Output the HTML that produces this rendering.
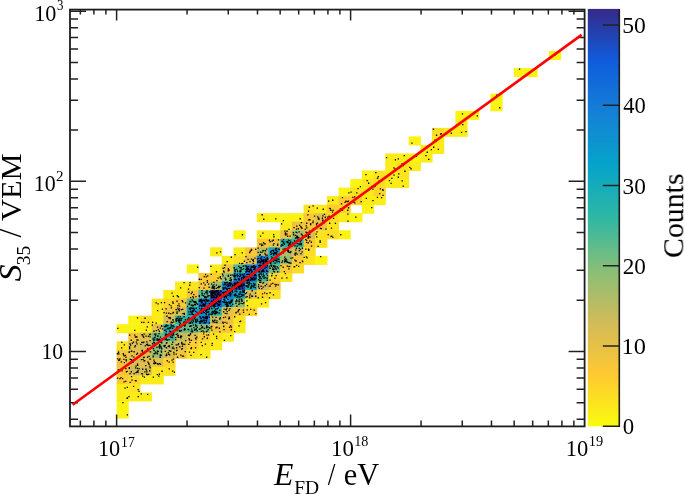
<!DOCTYPE html>
<html><head><meta charset="utf-8"><style>
html,body{margin:0;padding:0;background:#fff;width:685px;height:494px;overflow:hidden}
svg{display:block}
text{font-family:"Liberation Serif",serif}
</style></head><body>
<svg width="685" height="494" viewBox="0 0 685 494">
<rect width="685" height="494" fill="#fff"/>
<rect x="116.60" y="324.16" width="12.18" height="9.04" fill="#faf313"/><rect x="116.60" y="341.23" width="12.18" height="9.04" fill="#fbe41f"/><rect x="116.60" y="349.76" width="12.18" height="9.04" fill="#f3c53b"/><rect x="116.60" y="358.30" width="12.18" height="9.04" fill="#edc341"/><rect x="116.60" y="366.83" width="12.18" height="9.04" fill="#fac735"/><rect x="116.60" y="375.37" width="12.18" height="9.04" fill="#fecc2f"/><rect x="116.60" y="383.90" width="12.18" height="9.04" fill="#faeb19"/><rect x="116.60" y="392.44" width="12.18" height="9.04" fill="#faeb19"/><rect x="116.60" y="400.97" width="12.18" height="9.04" fill="#faf313"/><rect x="116.60" y="409.51" width="12.18" height="9.04" fill="#faf313"/><rect x="128.28" y="315.62" width="12.18" height="9.04" fill="#faf313"/><rect x="128.28" y="324.16" width="12.18" height="9.04" fill="#faf313"/><rect x="128.28" y="332.69" width="12.18" height="9.04" fill="#f3c53b"/><rect x="128.28" y="341.23" width="12.18" height="9.04" fill="#dfbf4d"/><rect x="128.28" y="349.76" width="12.18" height="9.04" fill="#e6c147"/><rect x="128.28" y="358.30" width="12.18" height="9.04" fill="#d8bd53"/><rect x="128.28" y="366.83" width="12.18" height="9.04" fill="#d1bb59"/><rect x="128.28" y="375.37" width="12.18" height="9.04" fill="#fdd42a"/><rect x="128.28" y="383.90" width="12.18" height="9.04" fill="#fbe41f"/><rect x="128.28" y="392.44" width="12.18" height="9.04" fill="#faeb19"/><rect x="139.97" y="315.62" width="12.18" height="9.04" fill="#fcdc24"/><rect x="139.97" y="324.16" width="12.18" height="9.04" fill="#faeb19"/><rect x="139.97" y="332.69" width="12.18" height="9.04" fill="#dfbf4d"/><rect x="139.97" y="341.23" width="12.18" height="9.04" fill="#d1bb59"/><rect x="139.97" y="349.76" width="12.18" height="9.04" fill="#d8bd53"/><rect x="139.97" y="358.30" width="12.18" height="9.04" fill="#dfbf4d"/><rect x="139.97" y="366.83" width="12.18" height="9.04" fill="#d8bd53"/><rect x="139.97" y="375.37" width="12.18" height="9.04" fill="#faeb19"/><rect x="139.97" y="392.44" width="12.18" height="9.04" fill="#faeb19"/><rect x="151.65" y="298.56" width="12.18" height="9.04" fill="#fbe41f"/><rect x="151.65" y="307.09" width="12.18" height="9.04" fill="#faeb19"/><rect x="151.65" y="315.62" width="12.18" height="9.04" fill="#faeb19"/><rect x="151.65" y="324.16" width="12.18" height="9.04" fill="#e6c147"/><rect x="151.65" y="332.69" width="12.18" height="9.04" fill="#65bc88"/><rect x="151.65" y="341.23" width="12.18" height="9.04" fill="#80be7a"/><rect x="151.65" y="349.76" width="12.18" height="9.04" fill="#98be70"/><rect x="151.65" y="358.30" width="12.18" height="9.04" fill="#e6c147"/><rect x="151.65" y="366.83" width="12.18" height="9.04" fill="#fbe41f"/><rect x="151.65" y="375.37" width="12.18" height="9.04" fill="#faeb19"/><rect x="163.33" y="290.02" width="12.18" height="9.04" fill="#faeb19"/><rect x="163.33" y="298.56" width="12.18" height="9.04" fill="#fdd42a"/><rect x="163.33" y="307.09" width="12.18" height="9.04" fill="#f3c53b"/><rect x="163.33" y="315.62" width="12.18" height="9.04" fill="#d8bd53"/><rect x="163.33" y="324.16" width="12.18" height="9.04" fill="#22b1b0"/><rect x="163.33" y="332.69" width="12.18" height="9.04" fill="#3cb89d"/><rect x="163.33" y="341.23" width="12.18" height="9.04" fill="#babc62"/><rect x="163.33" y="349.76" width="12.18" height="9.04" fill="#d8bd53"/><rect x="163.33" y="358.30" width="12.18" height="9.04" fill="#fdd42a"/><rect x="163.33" y="366.83" width="12.18" height="9.04" fill="#fbe41f"/><rect x="175.01" y="281.48" width="12.18" height="9.04" fill="#faeb19"/><rect x="175.01" y="290.02" width="12.18" height="9.04" fill="#faeb19"/><rect x="175.01" y="298.56" width="12.18" height="9.04" fill="#fac735"/><rect x="175.01" y="307.09" width="12.18" height="9.04" fill="#d8bd53"/><rect x="175.01" y="315.62" width="12.18" height="9.04" fill="#2eb7a4"/><rect x="175.01" y="324.16" width="12.18" height="9.04" fill="#65bc88"/><rect x="175.01" y="332.69" width="12.18" height="9.04" fill="#c5bc5e"/><rect x="175.01" y="341.23" width="12.18" height="9.04" fill="#d8bd53"/><rect x="175.01" y="349.76" width="12.18" height="9.04" fill="#f3c53b"/><rect x="186.70" y="264.42" width="12.18" height="9.04" fill="#faf313"/><rect x="186.70" y="281.48" width="12.18" height="9.04" fill="#fbe41f"/><rect x="186.70" y="290.02" width="12.18" height="9.04" fill="#f3c53b"/><rect x="186.70" y="298.56" width="12.18" height="9.04" fill="#57bb8f"/><rect x="186.70" y="307.09" width="12.18" height="9.04" fill="#09a5c7"/><rect x="186.70" y="315.62" width="12.18" height="9.04" fill="#28b4aa"/><rect x="186.70" y="324.16" width="12.18" height="9.04" fill="#65bc88"/><rect x="186.70" y="332.69" width="12.18" height="9.04" fill="#dfbf4d"/><rect x="186.70" y="341.23" width="12.18" height="9.04" fill="#fecc2f"/><rect x="186.70" y="349.76" width="12.18" height="9.04" fill="#fbe41f"/><rect x="198.38" y="272.95" width="12.18" height="9.04" fill="#fac735"/><rect x="198.38" y="281.48" width="12.18" height="9.04" fill="#f3c53b"/><rect x="198.38" y="290.02" width="12.18" height="9.04" fill="#57bb8f"/><rect x="198.38" y="298.56" width="12.18" height="9.04" fill="#1270d9"/><rect x="198.38" y="307.09" width="12.18" height="9.04" fill="#0b96ce"/><rect x="198.38" y="315.62" width="12.18" height="9.04" fill="#1286d4"/><rect x="198.38" y="324.16" width="12.18" height="9.04" fill="#80be7a"/><rect x="198.38" y="332.69" width="12.18" height="9.04" fill="#fecc2f"/><rect x="198.38" y="341.23" width="12.18" height="9.04" fill="#fbe41f"/><rect x="198.38" y="349.76" width="12.18" height="9.04" fill="#faeb19"/><rect x="210.06" y="247.34" width="12.18" height="9.04" fill="#faeb19"/><rect x="210.06" y="264.42" width="12.18" height="9.04" fill="#faeb19"/><rect x="210.06" y="272.95" width="12.18" height="9.04" fill="#fecc2f"/><rect x="210.06" y="281.48" width="12.18" height="9.04" fill="#a3bd6b"/><rect x="210.06" y="290.02" width="12.18" height="9.04" fill="#352a87"/><rect x="210.06" y="298.56" width="12.18" height="9.04" fill="#1850c9"/><rect x="210.06" y="307.09" width="12.18" height="9.04" fill="#22b1b0"/><rect x="210.06" y="315.62" width="12.18" height="9.04" fill="#c5bc5e"/><rect x="210.06" y="324.16" width="12.18" height="9.04" fill="#f3c53b"/><rect x="210.06" y="332.69" width="12.18" height="9.04" fill="#fbe41f"/><rect x="210.06" y="341.23" width="12.18" height="9.04" fill="#faeb19"/><rect x="221.75" y="255.88" width="12.18" height="9.04" fill="#faeb19"/><rect x="221.75" y="264.42" width="12.18" height="9.04" fill="#f3c53b"/><rect x="221.75" y="272.95" width="12.18" height="9.04" fill="#98be70"/><rect x="221.75" y="281.48" width="12.18" height="9.04" fill="#1286d4"/><rect x="221.75" y="290.02" width="12.18" height="9.04" fill="#137bd7"/><rect x="221.75" y="298.56" width="12.18" height="9.04" fill="#099ccd"/><rect x="221.75" y="307.09" width="12.18" height="9.04" fill="#e6c147"/><rect x="221.75" y="315.62" width="12.18" height="9.04" fill="#edc341"/><rect x="221.75" y="324.16" width="12.18" height="9.04" fill="#fac735"/><rect x="221.75" y="332.69" width="12.18" height="9.04" fill="#faeb19"/><rect x="233.43" y="230.28" width="12.18" height="9.04" fill="#faf313"/><rect x="233.43" y="247.34" width="12.18" height="9.04" fill="#faeb19"/><rect x="233.43" y="255.88" width="12.18" height="9.04" fill="#fcdc24"/><rect x="233.43" y="264.42" width="12.18" height="9.04" fill="#49ba96"/><rect x="233.43" y="272.95" width="12.18" height="9.04" fill="#1286d4"/><rect x="233.43" y="281.48" width="12.18" height="9.04" fill="#293aa2"/><rect x="233.43" y="290.02" width="12.18" height="9.04" fill="#09a5c7"/><rect x="233.43" y="298.56" width="12.18" height="9.04" fill="#80be7a"/><rect x="233.43" y="307.09" width="12.18" height="9.04" fill="#f3c53b"/><rect x="233.43" y="315.62" width="12.18" height="9.04" fill="#fbe41f"/><rect x="233.43" y="324.16" width="12.18" height="9.04" fill="#faeb19"/><rect x="245.11" y="247.34" width="12.18" height="9.04" fill="#fac735"/><rect x="245.11" y="255.88" width="12.18" height="9.04" fill="#e6c147"/><rect x="245.11" y="264.42" width="12.18" height="9.04" fill="#137bd7"/><rect x="245.11" y="272.95" width="12.18" height="9.04" fill="#1064dc"/><rect x="245.11" y="281.48" width="12.18" height="9.04" fill="#15abbb"/><rect x="245.11" y="290.02" width="12.18" height="9.04" fill="#d8bd53"/><rect x="245.11" y="298.56" width="12.18" height="9.04" fill="#faeb19"/><rect x="245.11" y="307.09" width="12.18" height="9.04" fill="#fdd42a"/><rect x="256.80" y="213.21" width="12.18" height="9.04" fill="#faeb19"/><rect x="256.80" y="230.28" width="12.18" height="9.04" fill="#faeb19"/><rect x="256.80" y="238.81" width="12.18" height="9.04" fill="#fac735"/><rect x="256.80" y="247.34" width="12.18" height="9.04" fill="#babc62"/><rect x="256.80" y="255.88" width="12.18" height="9.04" fill="#137bd7"/><rect x="256.80" y="264.42" width="12.18" height="9.04" fill="#1270d9"/><rect x="256.80" y="272.95" width="12.18" height="9.04" fill="#3cb89d"/><rect x="256.80" y="281.48" width="12.18" height="9.04" fill="#d1bb59"/><rect x="256.80" y="290.02" width="12.18" height="9.04" fill="#fdd42a"/><rect x="256.80" y="298.56" width="12.18" height="9.04" fill="#faeb19"/><rect x="268.48" y="213.21" width="12.18" height="9.04" fill="#faf313"/><rect x="268.48" y="230.28" width="12.18" height="9.04" fill="#faeb19"/><rect x="268.48" y="238.81" width="12.18" height="9.04" fill="#edc341"/><rect x="268.48" y="247.34" width="12.18" height="9.04" fill="#09a5c7"/><rect x="268.48" y="255.88" width="12.18" height="9.04" fill="#22b1b0"/><rect x="268.48" y="264.42" width="12.18" height="9.04" fill="#73bd81"/><rect x="268.48" y="272.95" width="12.18" height="9.04" fill="#fdd42a"/><rect x="268.48" y="281.48" width="12.18" height="9.04" fill="#f3c53b"/><rect x="268.48" y="290.02" width="12.18" height="9.04" fill="#fbe41f"/><rect x="280.16" y="213.21" width="12.18" height="9.04" fill="#faf313"/><rect x="280.16" y="221.74" width="12.18" height="9.04" fill="#faeb19"/><rect x="280.16" y="230.28" width="12.18" height="9.04" fill="#edc341"/><rect x="280.16" y="238.81" width="12.18" height="9.04" fill="#28b4aa"/><rect x="280.16" y="247.34" width="12.18" height="9.04" fill="#afbd67"/><rect x="280.16" y="255.88" width="12.18" height="9.04" fill="#98be70"/><rect x="280.16" y="264.42" width="12.18" height="9.04" fill="#fac735"/><rect x="280.16" y="272.95" width="12.18" height="9.04" fill="#fbe41f"/><rect x="291.85" y="213.21" width="12.18" height="9.04" fill="#faf313"/><rect x="291.85" y="221.74" width="12.18" height="9.04" fill="#edc341"/><rect x="291.85" y="230.28" width="12.18" height="9.04" fill="#a3bd6b"/><rect x="291.85" y="238.81" width="12.18" height="9.04" fill="#2eb7a4"/><rect x="291.85" y="247.34" width="12.18" height="9.04" fill="#d1bb59"/><rect x="291.85" y="255.88" width="12.18" height="9.04" fill="#fac735"/><rect x="291.85" y="264.42" width="12.18" height="9.04" fill="#fcdc24"/><rect x="303.53" y="204.67" width="12.18" height="9.04" fill="#fbe41f"/><rect x="303.53" y="213.21" width="12.18" height="9.04" fill="#fac735"/><rect x="303.53" y="221.74" width="12.18" height="9.04" fill="#f3c53b"/><rect x="303.53" y="230.28" width="12.18" height="9.04" fill="#d8bd53"/><rect x="303.53" y="238.81" width="12.18" height="9.04" fill="#fac735"/><rect x="303.53" y="247.34" width="12.18" height="9.04" fill="#fcdc24"/><rect x="303.53" y="255.88" width="12.18" height="9.04" fill="#fbe41f"/><rect x="315.21" y="204.67" width="12.18" height="9.04" fill="#faeb19"/><rect x="315.21" y="213.21" width="12.18" height="9.04" fill="#dfbf4d"/><rect x="315.21" y="221.74" width="12.18" height="9.04" fill="#edc341"/><rect x="315.21" y="230.28" width="12.18" height="9.04" fill="#fbe41f"/><rect x="315.21" y="238.81" width="12.18" height="9.04" fill="#fbe41f"/><rect x="315.21" y="255.88" width="12.18" height="9.04" fill="#faf313"/><rect x="326.89" y="196.14" width="12.18" height="9.04" fill="#faeb19"/><rect x="326.89" y="204.67" width="12.18" height="9.04" fill="#fecc2f"/><rect x="326.89" y="213.21" width="12.18" height="9.04" fill="#fcdc24"/><rect x="326.89" y="221.74" width="12.18" height="9.04" fill="#fbe41f"/><rect x="326.89" y="230.28" width="12.18" height="9.04" fill="#fcdc24"/><rect x="338.58" y="187.60" width="12.18" height="9.04" fill="#faf313"/><rect x="338.58" y="196.14" width="12.18" height="9.04" fill="#fecc2f"/><rect x="338.58" y="204.67" width="12.18" height="9.04" fill="#fdd42a"/><rect x="338.58" y="213.21" width="12.18" height="9.04" fill="#faeb19"/><rect x="338.58" y="230.28" width="12.18" height="9.04" fill="#faf313"/><rect x="350.26" y="179.06" width="12.18" height="9.04" fill="#faf313"/><rect x="350.26" y="187.60" width="12.18" height="9.04" fill="#fbe41f"/><rect x="350.26" y="196.14" width="12.18" height="9.04" fill="#fecc2f"/><rect x="350.26" y="213.21" width="12.18" height="9.04" fill="#faf313"/><rect x="361.94" y="170.53" width="12.18" height="9.04" fill="#faf313"/><rect x="361.94" y="179.06" width="12.18" height="9.04" fill="#fbe41f"/><rect x="361.94" y="187.60" width="12.18" height="9.04" fill="#faeb19"/><rect x="361.94" y="196.14" width="12.18" height="9.04" fill="#faeb19"/><rect x="361.94" y="204.67" width="12.18" height="9.04" fill="#faf313"/><rect x="373.63" y="170.53" width="12.18" height="9.04" fill="#fbe41f"/><rect x="373.63" y="179.06" width="12.18" height="9.04" fill="#fcdc24"/><rect x="373.63" y="187.60" width="12.18" height="9.04" fill="#fdd42a"/><rect x="373.63" y="196.14" width="12.18" height="9.04" fill="#faeb19"/><rect x="385.31" y="153.46" width="12.18" height="9.04" fill="#faeb19"/><rect x="385.31" y="162.00" width="12.18" height="9.04" fill="#faeb19"/><rect x="385.31" y="170.53" width="12.18" height="9.04" fill="#faeb19"/><rect x="385.31" y="179.06" width="12.18" height="9.04" fill="#faeb19"/><rect x="396.99" y="153.46" width="12.18" height="9.04" fill="#faeb19"/><rect x="396.99" y="162.00" width="12.18" height="9.04" fill="#fbe41f"/><rect x="396.99" y="170.53" width="12.18" height="9.04" fill="#fbe41f"/><rect x="396.99" y="179.06" width="12.18" height="9.04" fill="#faeb19"/><rect x="408.67" y="136.39" width="12.18" height="9.04" fill="#faf313"/><rect x="408.67" y="153.46" width="12.18" height="9.04" fill="#faf313"/><rect x="408.67" y="162.00" width="12.18" height="9.04" fill="#faeb19"/><rect x="420.36" y="144.93" width="12.18" height="9.04" fill="#faeb19"/><rect x="420.36" y="153.46" width="12.18" height="9.04" fill="#faeb19"/><rect x="432.04" y="127.85" width="12.18" height="9.04" fill="#fcdc24"/><rect x="432.04" y="136.39" width="12.18" height="9.04" fill="#faeb19"/><rect x="432.04" y="144.93" width="12.18" height="9.04" fill="#faeb19"/><rect x="443.72" y="127.85" width="12.18" height="9.04" fill="#faeb19"/><rect x="455.41" y="110.78" width="12.18" height="9.04" fill="#faf313"/><rect x="455.41" y="119.32" width="12.18" height="9.04" fill="#faeb19"/><rect x="455.41" y="127.85" width="12.18" height="9.04" fill="#faeb19"/><rect x="467.09" y="110.78" width="12.18" height="9.04" fill="#faf313"/><rect x="490.46" y="93.72" width="12.18" height="9.04" fill="#faf313"/><rect x="490.46" y="102.25" width="12.18" height="9.04" fill="#faf313"/><rect x="513.82" y="68.11" width="12.18" height="9.04" fill="#faf313"/><rect x="525.50" y="68.11" width="12.18" height="9.04" fill="#faf313"/><rect x="548.87" y="51.04" width="12.18" height="9.04" fill="#faf313"/><path fill="#000" d="M117.2 327.8h1.3v1.3h-1.3zM121.1 341.7h1.3v1.3h-1.3zM121.0 347.2h1.3v1.3h-1.3zM123.7 344.3h1.3v1.3h-1.3zM122.7 353.0h1.3v1.3h-1.3zM124.8 354.8h1.3v1.3h-1.3zM118.2 353.3h1.3v1.3h-1.3zM123.5 355.3h1.3v1.3h-1.3zM122.8 354.0h1.3v1.3h-1.3zM125.3 356.6h1.3v1.3h-1.3zM116.8 353.1h1.3v1.3h-1.3zM117.9 351.6h1.3v1.3h-1.3zM125.6 358.9h1.3v1.3h-1.3zM125.6 360.3h1.3v1.3h-1.3zM118.2 359.6h1.3v1.3h-1.3zM119.3 358.3h1.3v1.3h-1.3zM123.8 362.0h1.3v1.3h-1.3zM120.7 361.2h1.3v1.3h-1.3zM123.2 358.8h1.3v1.3h-1.3zM118.8 359.5h1.3v1.3h-1.3zM117.1 358.3h1.3v1.3h-1.3zM117.7 369.5h1.3v1.3h-1.3zM125.7 371.3h1.3v1.3h-1.3zM119.2 369.3h1.3v1.3h-1.3zM121.4 370.3h1.3v1.3h-1.3zM117.7 369.3h1.3v1.3h-1.3zM125.2 368.0h1.3v1.3h-1.3zM126.5 370.7h1.3v1.3h-1.3zM119.3 378.0h1.3v1.3h-1.3zM125.1 380.7h1.3v1.3h-1.3zM122.0 377.9h1.3v1.3h-1.3zM116.9 377.4h1.3v1.3h-1.3zM120.4 377.0h1.3v1.3h-1.3zM123.4 381.2h1.3v1.3h-1.3zM124.4 387.4h1.3v1.3h-1.3zM126.7 386.8h1.3v1.3h-1.3zM126.4 397.7h1.3v1.3h-1.3zM126.8 397.2h1.3v1.3h-1.3zM122.3 401.9h1.3v1.3h-1.3zM126.7 414.2h1.3v1.3h-1.3zM136.9 317.2h1.3v1.3h-1.3zM134.1 329.8h1.3v1.3h-1.3zM134.1 334.5h1.3v1.3h-1.3zM136.3 336.4h1.3v1.3h-1.3zM136.2 339.3h1.3v1.3h-1.3zM134.6 336.4h1.3v1.3h-1.3zM135.5 336.0h1.3v1.3h-1.3zM137.4 339.5h1.3v1.3h-1.3zM129.0 334.4h1.3v1.3h-1.3zM130.6 339.6h1.3v1.3h-1.3zM130.0 344.4h1.3v1.3h-1.3zM131.8 342.6h1.3v1.3h-1.3zM135.8 341.4h1.3v1.3h-1.3zM132.9 341.4h1.3v1.3h-1.3zM134.8 344.9h1.3v1.3h-1.3zM129.4 343.2h1.3v1.3h-1.3zM136.4 343.2h1.3v1.3h-1.3zM134.2 346.3h1.3v1.3h-1.3zM128.9 346.2h1.3v1.3h-1.3zM129.0 348.0h1.3v1.3h-1.3zM129.0 347.5h1.3v1.3h-1.3zM131.1 350.7h1.3v1.3h-1.3zM130.8 350.6h1.3v1.3h-1.3zM128.8 351.2h1.3v1.3h-1.3zM131.4 355.3h1.3v1.3h-1.3zM133.5 351.1h1.3v1.3h-1.3zM128.5 351.6h1.3v1.3h-1.3zM135.9 353.8h1.3v1.3h-1.3zM133.2 356.5h1.3v1.3h-1.3zM136.8 352.9h1.3v1.3h-1.3zM136.9 352.6h1.3v1.3h-1.3zM135.4 365.4h1.3v1.3h-1.3zM136.9 363.4h1.3v1.3h-1.3zM132.5 360.8h1.3v1.3h-1.3zM129.6 358.8h1.3v1.3h-1.3zM130.9 359.5h1.3v1.3h-1.3zM137.0 364.6h1.3v1.3h-1.3zM131.2 360.1h1.3v1.3h-1.3zM133.1 359.4h1.3v1.3h-1.3zM131.5 360.9h1.3v1.3h-1.3zM132.2 361.7h1.3v1.3h-1.3zM130.4 362.0h1.3v1.3h-1.3zM131.0 358.9h1.3v1.3h-1.3zM128.7 367.0h1.3v1.3h-1.3zM130.7 371.1h1.3v1.3h-1.3zM136.1 371.6h1.3v1.3h-1.3zM137.4 369.7h1.3v1.3h-1.3zM138.5 367.9h1.3v1.3h-1.3zM135.0 367.2h1.3v1.3h-1.3zM137.5 371.4h1.3v1.3h-1.3zM136.7 367.8h1.3v1.3h-1.3zM133.5 372.9h1.3v1.3h-1.3zM136.9 371.1h1.3v1.3h-1.3zM135.4 371.9h1.3v1.3h-1.3zM128.6 367.8h1.3v1.3h-1.3zM129.4 372.9h1.3v1.3h-1.3zM130.9 375.9h1.3v1.3h-1.3zM134.7 380.0h1.3v1.3h-1.3zM131.4 379.5h1.3v1.3h-1.3zM135.5 380.3h1.3v1.3h-1.3zM129.5 381.8h1.3v1.3h-1.3zM138.4 390.7h1.3v1.3h-1.3zM132.9 385.8h1.3v1.3h-1.3zM137.5 389.0h1.3v1.3h-1.3zM137.6 396.0h1.3v1.3h-1.3zM128.3 396.0h1.3v1.3h-1.3zM143.2 321.7h1.3v1.3h-1.3zM147.8 321.7h1.3v1.3h-1.3zM144.4 317.6h1.3v1.3h-1.3zM141.0 321.7h1.3v1.3h-1.3zM145.7 329.4h1.3v1.3h-1.3zM146.7 326.2h1.3v1.3h-1.3zM149.6 333.6h1.3v1.3h-1.3zM143.1 336.7h1.3v1.3h-1.3zM141.7 333.9h1.3v1.3h-1.3zM149.4 336.3h1.3v1.3h-1.3zM149.4 339.9h1.3v1.3h-1.3zM141.4 334.1h1.3v1.3h-1.3zM143.5 333.4h1.3v1.3h-1.3zM147.7 335.7h1.3v1.3h-1.3zM145.4 335.4h1.3v1.3h-1.3zM148.9 334.3h1.3v1.3h-1.3zM142.5 335.6h1.3v1.3h-1.3zM149.3 344.7h1.3v1.3h-1.3zM142.5 342.0h1.3v1.3h-1.3zM144.7 345.2h1.3v1.3h-1.3zM146.7 343.4h1.3v1.3h-1.3zM141.1 341.7h1.3v1.3h-1.3zM146.0 344.0h1.3v1.3h-1.3zM146.2 341.3h1.3v1.3h-1.3zM149.1 344.7h1.3v1.3h-1.3zM143.2 341.4h1.3v1.3h-1.3zM147.0 344.3h1.3v1.3h-1.3zM146.9 347.9h1.3v1.3h-1.3zM140.3 343.7h1.3v1.3h-1.3zM147.6 344.9h1.3v1.3h-1.3zM143.0 356.7h1.3v1.3h-1.3zM141.9 351.4h1.3v1.3h-1.3zM146.9 356.6h1.3v1.3h-1.3zM141.4 350.1h1.3v1.3h-1.3zM147.7 350.0h1.3v1.3h-1.3zM143.9 352.5h1.3v1.3h-1.3zM141.7 349.8h1.3v1.3h-1.3zM143.6 356.7h1.3v1.3h-1.3zM150.0 351.3h1.3v1.3h-1.3zM148.5 355.7h1.3v1.3h-1.3zM140.5 353.2h1.3v1.3h-1.3zM149.5 351.2h1.3v1.3h-1.3zM149.3 358.5h1.3v1.3h-1.3zM148.4 363.8h1.3v1.3h-1.3zM143.3 360.3h1.3v1.3h-1.3zM149.8 358.5h1.3v1.3h-1.3zM144.0 360.1h1.3v1.3h-1.3zM145.1 365.0h1.3v1.3h-1.3zM148.0 362.7h1.3v1.3h-1.3zM142.5 358.8h1.3v1.3h-1.3zM149.1 365.4h1.3v1.3h-1.3zM140.8 359.0h1.3v1.3h-1.3zM147.3 361.5h1.3v1.3h-1.3zM144.3 371.3h1.3v1.3h-1.3zM141.2 372.9h1.3v1.3h-1.3zM145.9 369.5h1.3v1.3h-1.3zM142.0 368.6h1.3v1.3h-1.3zM141.6 373.2h1.3v1.3h-1.3zM145.2 368.5h1.3v1.3h-1.3zM146.7 374.0h1.3v1.3h-1.3zM149.5 367.1h1.3v1.3h-1.3zM146.0 373.6h1.3v1.3h-1.3zM149.0 370.1h1.3v1.3h-1.3zM148.0 373.7h1.3v1.3h-1.3zM146.2 371.3h1.3v1.3h-1.3zM143.8 376.4h1.3v1.3h-1.3zM142.1 375.5h1.3v1.3h-1.3zM147.0 393.8h1.3v1.3h-1.3zM140.6 393.2h1.3v1.3h-1.3zM157.4 303.2h1.3v1.3h-1.3zM160.8 301.9h1.3v1.3h-1.3zM155.5 302.2h1.3v1.3h-1.3zM161.7 308.5h1.3v1.3h-1.3zM157.0 309.9h1.3v1.3h-1.3zM152.0 321.7h1.3v1.3h-1.3zM155.6 322.5h1.3v1.3h-1.3zM153.3 330.6h1.3v1.3h-1.3zM161.2 325.7h1.3v1.3h-1.3zM156.9 326.5h1.3v1.3h-1.3zM158.7 330.6h1.3v1.3h-1.3zM155.7 329.9h1.3v1.3h-1.3zM161.9 328.3h1.3v1.3h-1.3zM159.6 327.4h1.3v1.3h-1.3zM157.7 329.0h1.3v1.3h-1.3zM151.7 324.4h1.3v1.3h-1.3zM160.9 325.1h1.3v1.3h-1.3zM158.4 332.9h1.3v1.3h-1.3zM155.3 333.5h1.3v1.3h-1.3zM154.0 336.9h1.3v1.3h-1.3zM153.8 337.2h1.3v1.3h-1.3zM153.0 339.5h1.3v1.3h-1.3zM160.7 338.4h1.3v1.3h-1.3zM157.5 335.2h1.3v1.3h-1.3zM156.3 339.5h1.3v1.3h-1.3zM154.2 339.2h1.3v1.3h-1.3zM157.2 335.6h1.3v1.3h-1.3zM152.3 338.3h1.3v1.3h-1.3zM157.4 339.5h1.3v1.3h-1.3zM153.7 337.1h1.3v1.3h-1.3zM158.3 338.6h1.3v1.3h-1.3zM154.9 334.9h1.3v1.3h-1.3zM160.9 338.4h1.3v1.3h-1.3zM156.5 338.1h1.3v1.3h-1.3zM154.0 333.5h1.3v1.3h-1.3zM158.9 338.8h1.3v1.3h-1.3zM154.4 336.7h1.3v1.3h-1.3zM159.8 336.5h1.3v1.3h-1.3zM158.3 339.7h1.3v1.3h-1.3zM160.8 341.3h1.3v1.3h-1.3zM158.2 346.2h1.3v1.3h-1.3zM158.9 347.4h1.3v1.3h-1.3zM159.2 345.4h1.3v1.3h-1.3zM153.8 345.7h1.3v1.3h-1.3zM161.1 342.3h1.3v1.3h-1.3zM152.8 348.0h1.3v1.3h-1.3zM153.1 341.4h1.3v1.3h-1.3zM158.8 345.8h1.3v1.3h-1.3zM159.3 341.7h1.3v1.3h-1.3zM161.1 348.1h1.3v1.3h-1.3zM153.8 342.0h1.3v1.3h-1.3zM160.5 347.1h1.3v1.3h-1.3zM160.2 345.8h1.3v1.3h-1.3zM153.8 343.5h1.3v1.3h-1.3zM151.9 343.1h1.3v1.3h-1.3zM159.1 343.9h1.3v1.3h-1.3zM158.1 341.5h1.3v1.3h-1.3zM156.2 346.8h1.3v1.3h-1.3zM159.0 345.1h1.3v1.3h-1.3zM160.6 350.4h1.3v1.3h-1.3zM153.4 349.8h1.3v1.3h-1.3zM159.6 356.8h1.3v1.3h-1.3zM156.7 353.3h1.3v1.3h-1.3zM153.6 353.3h1.3v1.3h-1.3zM154.6 351.3h1.3v1.3h-1.3zM156.8 350.6h1.3v1.3h-1.3zM152.5 355.5h1.3v1.3h-1.3zM159.8 354.3h1.3v1.3h-1.3zM152.5 356.2h1.3v1.3h-1.3zM156.9 352.5h1.3v1.3h-1.3zM154.1 353.1h1.3v1.3h-1.3zM159.5 355.2h1.3v1.3h-1.3zM155.3 352.1h1.3v1.3h-1.3zM160.4 354.6h1.3v1.3h-1.3zM153.4 352.9h1.3v1.3h-1.3zM157.7 350.7h1.3v1.3h-1.3zM160.8 351.5h1.3v1.3h-1.3zM153.3 359.4h1.3v1.3h-1.3zM155.0 362.1h1.3v1.3h-1.3zM159.9 363.6h1.3v1.3h-1.3zM153.7 362.9h1.3v1.3h-1.3zM153.8 361.1h1.3v1.3h-1.3zM156.8 362.9h1.3v1.3h-1.3zM153.1 362.7h1.3v1.3h-1.3zM157.6 363.7h1.3v1.3h-1.3zM158.7 362.9h1.3v1.3h-1.3zM154.9 362.8h1.3v1.3h-1.3zM158.7 373.6h1.3v1.3h-1.3zM156.7 373.9h1.3v1.3h-1.3zM161.4 370.6h1.3v1.3h-1.3zM158.2 375.5h1.3v1.3h-1.3zM152.7 376.4h1.3v1.3h-1.3zM171.4 292.5h1.3v1.3h-1.3zM172.7 295.7h1.3v1.3h-1.3zM168.8 303.9h1.3v1.3h-1.3zM172.5 302.6h1.3v1.3h-1.3zM163.9 301.9h1.3v1.3h-1.3zM172.1 301.3h1.3v1.3h-1.3zM170.4 305.3h1.3v1.3h-1.3zM168.1 312.6h1.3v1.3h-1.3zM172.8 311.8h1.3v1.3h-1.3zM165.5 308.2h1.3v1.3h-1.3zM163.4 312.0h1.3v1.3h-1.3zM165.8 312.4h1.3v1.3h-1.3zM172.2 312.4h1.3v1.3h-1.3zM170.8 307.2h1.3v1.3h-1.3zM170.1 313.0h1.3v1.3h-1.3zM166.6 320.9h1.3v1.3h-1.3zM172.3 319.1h1.3v1.3h-1.3zM173.1 321.3h1.3v1.3h-1.3zM170.6 321.6h1.3v1.3h-1.3zM169.6 317.9h1.3v1.3h-1.3zM166.3 315.6h1.3v1.3h-1.3zM171.8 321.9h1.3v1.3h-1.3zM170.4 322.2h1.3v1.3h-1.3zM168.2 317.1h1.3v1.3h-1.3zM171.1 321.4h1.3v1.3h-1.3zM172.5 319.4h1.3v1.3h-1.3zM169.5 317.0h1.3v1.3h-1.3zM165.2 329.2h1.3v1.3h-1.3zM169.2 327.1h1.3v1.3h-1.3zM167.2 324.9h1.3v1.3h-1.3zM171.5 325.3h1.3v1.3h-1.3zM166.9 327.9h1.3v1.3h-1.3zM168.4 328.3h1.3v1.3h-1.3zM166.0 324.4h1.3v1.3h-1.3zM165.2 324.8h1.3v1.3h-1.3zM169.1 330.5h1.3v1.3h-1.3zM173.2 330.7h1.3v1.3h-1.3zM169.5 327.0h1.3v1.3h-1.3zM173.3 326.0h1.3v1.3h-1.3zM170.0 331.1h1.3v1.3h-1.3zM167.4 327.4h1.3v1.3h-1.3zM173.4 331.3h1.3v1.3h-1.3zM163.7 326.0h1.3v1.3h-1.3zM172.7 330.7h1.3v1.3h-1.3zM163.8 329.8h1.3v1.3h-1.3zM170.0 331.3h1.3v1.3h-1.3zM170.4 326.3h1.3v1.3h-1.3zM171.2 324.9h1.3v1.3h-1.3zM166.0 325.1h1.3v1.3h-1.3zM165.1 325.9h1.3v1.3h-1.3zM170.4 324.3h1.3v1.3h-1.3zM165.6 330.9h1.3v1.3h-1.3zM172.6 325.2h1.3v1.3h-1.3zM169.9 327.4h1.3v1.3h-1.3zM171.9 327.6h1.3v1.3h-1.3zM164.8 334.3h1.3v1.3h-1.3zM170.7 336.7h1.3v1.3h-1.3zM172.4 334.6h1.3v1.3h-1.3zM164.9 334.7h1.3v1.3h-1.3zM166.8 333.9h1.3v1.3h-1.3zM166.6 339.2h1.3v1.3h-1.3zM170.3 334.2h1.3v1.3h-1.3zM166.3 334.6h1.3v1.3h-1.3zM172.9 333.4h1.3v1.3h-1.3zM172.6 333.1h1.3v1.3h-1.3zM166.4 339.8h1.3v1.3h-1.3zM171.7 335.2h1.3v1.3h-1.3zM163.4 338.7h1.3v1.3h-1.3zM165.6 336.8h1.3v1.3h-1.3zM165.2 338.3h1.3v1.3h-1.3zM165.4 333.3h1.3v1.3h-1.3zM169.7 336.3h1.3v1.3h-1.3zM165.5 337.1h1.3v1.3h-1.3zM171.8 336.9h1.3v1.3h-1.3zM164.0 338.0h1.3v1.3h-1.3zM170.8 333.1h1.3v1.3h-1.3zM168.5 332.8h1.3v1.3h-1.3zM168.3 339.0h1.3v1.3h-1.3zM165.3 338.7h1.3v1.3h-1.3zM165.0 335.4h1.3v1.3h-1.3zM163.4 345.0h1.3v1.3h-1.3zM171.8 347.5h1.3v1.3h-1.3zM168.5 344.9h1.3v1.3h-1.3zM165.7 342.5h1.3v1.3h-1.3zM165.9 347.1h1.3v1.3h-1.3zM164.3 346.3h1.3v1.3h-1.3zM163.5 345.6h1.3v1.3h-1.3zM168.8 346.3h1.3v1.3h-1.3zM172.4 346.4h1.3v1.3h-1.3zM164.6 344.8h1.3v1.3h-1.3zM166.2 342.1h1.3v1.3h-1.3zM171.4 343.7h1.3v1.3h-1.3zM172.1 341.6h1.3v1.3h-1.3zM173.3 348.0h1.3v1.3h-1.3zM167.7 345.8h1.3v1.3h-1.3zM168.8 350.3h1.3v1.3h-1.3zM168.6 349.9h1.3v1.3h-1.3zM166.1 354.7h1.3v1.3h-1.3zM165.9 353.5h1.3v1.3h-1.3zM173.2 351.8h1.3v1.3h-1.3zM170.1 350.6h1.3v1.3h-1.3zM173.3 353.5h1.3v1.3h-1.3zM168.2 353.6h1.3v1.3h-1.3zM164.6 350.7h1.3v1.3h-1.3zM167.6 351.9h1.3v1.3h-1.3zM165.4 354.9h1.3v1.3h-1.3zM169.0 354.2h1.3v1.3h-1.3zM166.6 360.1h1.3v1.3h-1.3zM171.3 359.4h1.3v1.3h-1.3zM172.4 361.5h1.3v1.3h-1.3zM168.5 361.5h1.3v1.3h-1.3zM172.8 358.4h1.3v1.3h-1.3zM171.9 370.5h1.3v1.3h-1.3zM168.6 368.2h1.3v1.3h-1.3zM173.7 371.4h1.3v1.3h-1.3zM183.4 281.9h1.3v1.3h-1.3zM180.0 287.2h1.3v1.3h-1.3zM176.6 295.1h1.3v1.3h-1.3zM177.8 296.1h1.3v1.3h-1.3zM178.9 305.5h1.3v1.3h-1.3zM184.9 302.2h1.3v1.3h-1.3zM177.2 304.9h1.3v1.3h-1.3zM178.3 303.3h1.3v1.3h-1.3zM176.4 300.6h1.3v1.3h-1.3zM181.5 299.9h1.3v1.3h-1.3zM182.1 301.1h1.3v1.3h-1.3zM183.7 312.7h1.3v1.3h-1.3zM175.5 308.9h1.3v1.3h-1.3zM176.3 312.6h1.3v1.3h-1.3zM182.3 312.9h1.3v1.3h-1.3zM180.7 308.9h1.3v1.3h-1.3zM178.7 310.1h1.3v1.3h-1.3zM182.0 308.8h1.3v1.3h-1.3zM176.5 311.2h1.3v1.3h-1.3zM177.2 307.5h1.3v1.3h-1.3zM178.8 308.3h1.3v1.3h-1.3zM177.6 308.9h1.3v1.3h-1.3zM183.8 313.8h1.3v1.3h-1.3zM183.2 321.6h1.3v1.3h-1.3zM178.3 318.3h1.3v1.3h-1.3zM178.8 321.6h1.3v1.3h-1.3zM175.4 319.7h1.3v1.3h-1.3zM184.8 319.2h1.3v1.3h-1.3zM176.7 317.8h1.3v1.3h-1.3zM175.8 320.6h1.3v1.3h-1.3zM179.6 322.6h1.3v1.3h-1.3zM175.4 318.8h1.3v1.3h-1.3zM183.9 321.3h1.3v1.3h-1.3zM178.0 320.4h1.3v1.3h-1.3zM179.4 318.1h1.3v1.3h-1.3zM176.7 317.8h1.3v1.3h-1.3zM180.9 318.1h1.3v1.3h-1.3zM175.9 318.0h1.3v1.3h-1.3zM185.1 322.6h1.3v1.3h-1.3zM183.4 316.1h1.3v1.3h-1.3zM181.3 317.8h1.3v1.3h-1.3zM184.9 319.1h1.3v1.3h-1.3zM179.7 316.2h1.3v1.3h-1.3zM178.9 319.8h1.3v1.3h-1.3zM180.5 319.7h1.3v1.3h-1.3zM177.6 316.3h1.3v1.3h-1.3zM177.6 319.2h1.3v1.3h-1.3zM177.4 319.8h1.3v1.3h-1.3zM180.3 319.9h1.3v1.3h-1.3zM179.3 324.7h1.3v1.3h-1.3zM184.0 328.1h1.3v1.3h-1.3zM180.9 329.8h1.3v1.3h-1.3zM183.1 324.6h1.3v1.3h-1.3zM178.9 324.3h1.3v1.3h-1.3zM177.2 326.3h1.3v1.3h-1.3zM179.4 330.6h1.3v1.3h-1.3zM184.1 325.4h1.3v1.3h-1.3zM178.6 329.7h1.3v1.3h-1.3zM183.6 325.0h1.3v1.3h-1.3zM175.5 328.5h1.3v1.3h-1.3zM180.7 330.0h1.3v1.3h-1.3zM184.6 329.0h1.3v1.3h-1.3zM181.1 325.0h1.3v1.3h-1.3zM176.2 330.0h1.3v1.3h-1.3zM180.8 326.3h1.3v1.3h-1.3zM184.9 324.3h1.3v1.3h-1.3zM183.3 324.4h1.3v1.3h-1.3zM183.5 329.1h1.3v1.3h-1.3zM179.1 330.5h1.3v1.3h-1.3zM175.8 326.5h1.3v1.3h-1.3zM184.3 328.4h1.3v1.3h-1.3zM176.8 335.3h1.3v1.3h-1.3zM181.0 335.5h1.3v1.3h-1.3zM175.1 336.9h1.3v1.3h-1.3zM175.5 333.8h1.3v1.3h-1.3zM177.8 334.7h1.3v1.3h-1.3zM177.7 336.8h1.3v1.3h-1.3zM185.0 339.9h1.3v1.3h-1.3zM180.3 337.3h1.3v1.3h-1.3zM180.7 335.6h1.3v1.3h-1.3zM180.0 335.4h1.3v1.3h-1.3zM177.5 335.2h1.3v1.3h-1.3zM175.1 339.0h1.3v1.3h-1.3zM179.6 336.8h1.3v1.3h-1.3zM176.8 333.2h1.3v1.3h-1.3zM181.1 341.8h1.3v1.3h-1.3zM181.0 348.4h1.3v1.3h-1.3zM177.9 343.1h1.3v1.3h-1.3zM177.3 344.1h1.3v1.3h-1.3zM184.1 343.7h1.3v1.3h-1.3zM181.7 347.9h1.3v1.3h-1.3zM179.2 346.1h1.3v1.3h-1.3zM175.6 344.2h1.3v1.3h-1.3zM181.2 343.1h1.3v1.3h-1.3zM182.5 343.6h1.3v1.3h-1.3zM175.9 347.1h1.3v1.3h-1.3zM181.8 345.6h1.3v1.3h-1.3zM182.9 355.4h1.3v1.3h-1.3zM176.4 349.8h1.3v1.3h-1.3zM181.8 355.4h1.3v1.3h-1.3zM175.9 350.0h1.3v1.3h-1.3zM175.6 353.4h1.3v1.3h-1.3zM176.9 356.6h1.3v1.3h-1.3zM184.6 350.9h1.3v1.3h-1.3zM180.2 354.4h1.3v1.3h-1.3zM197.0 266.6h1.3v1.3h-1.3zM187.9 288.5h1.3v1.3h-1.3zM189.1 284.6h1.3v1.3h-1.3zM189.4 282.0h1.3v1.3h-1.3zM190.7 293.0h1.3v1.3h-1.3zM190.0 297.0h1.3v1.3h-1.3zM192.8 297.2h1.3v1.3h-1.3zM193.2 293.9h1.3v1.3h-1.3zM191.6 291.6h1.3v1.3h-1.3zM192.2 295.9h1.3v1.3h-1.3zM195.3 295.9h1.3v1.3h-1.3zM188.3 291.8h1.3v1.3h-1.3zM190.4 304.4h1.3v1.3h-1.3zM191.4 299.2h1.3v1.3h-1.3zM197.0 303.6h1.3v1.3h-1.3zM188.3 303.5h1.3v1.3h-1.3zM192.1 300.3h1.3v1.3h-1.3zM190.2 301.3h1.3v1.3h-1.3zM188.8 302.7h1.3v1.3h-1.3zM188.6 303.8h1.3v1.3h-1.3zM193.1 301.2h1.3v1.3h-1.3zM195.1 301.1h1.3v1.3h-1.3zM192.7 305.2h1.3v1.3h-1.3zM196.8 303.7h1.3v1.3h-1.3zM193.6 300.9h1.3v1.3h-1.3zM194.5 301.3h1.3v1.3h-1.3zM191.5 304.6h1.3v1.3h-1.3zM191.6 305.0h1.3v1.3h-1.3zM193.7 303.9h1.3v1.3h-1.3zM194.7 304.1h1.3v1.3h-1.3zM194.1 302.0h1.3v1.3h-1.3zM193.9 301.6h1.3v1.3h-1.3zM186.8 305.7h1.3v1.3h-1.3zM189.4 300.8h1.3v1.3h-1.3zM195.6 302.6h1.3v1.3h-1.3zM191.1 307.5h1.3v1.3h-1.3zM189.4 308.6h1.3v1.3h-1.3zM192.3 309.8h1.3v1.3h-1.3zM191.8 311.3h1.3v1.3h-1.3zM192.5 307.5h1.3v1.3h-1.3zM192.2 310.0h1.3v1.3h-1.3zM191.3 313.4h1.3v1.3h-1.3zM191.2 311.7h1.3v1.3h-1.3zM195.7 307.6h1.3v1.3h-1.3zM188.6 313.8h1.3v1.3h-1.3zM195.0 310.7h1.3v1.3h-1.3zM193.7 309.2h1.3v1.3h-1.3zM188.8 307.8h1.3v1.3h-1.3zM194.8 314.0h1.3v1.3h-1.3zM193.8 308.2h1.3v1.3h-1.3zM189.7 308.8h1.3v1.3h-1.3zM190.0 311.1h1.3v1.3h-1.3zM190.8 307.3h1.3v1.3h-1.3zM193.4 308.7h1.3v1.3h-1.3zM191.2 312.0h1.3v1.3h-1.3zM197.0 313.9h1.3v1.3h-1.3zM191.9 313.8h1.3v1.3h-1.3zM191.7 313.3h1.3v1.3h-1.3zM192.3 307.7h1.3v1.3h-1.3zM189.1 313.8h1.3v1.3h-1.3zM192.9 314.1h1.3v1.3h-1.3zM196.5 311.8h1.3v1.3h-1.3zM190.2 310.3h1.3v1.3h-1.3zM189.8 307.6h1.3v1.3h-1.3zM192.9 310.4h1.3v1.3h-1.3zM192.0 307.8h1.3v1.3h-1.3zM188.1 311.3h1.3v1.3h-1.3zM190.6 320.4h1.3v1.3h-1.3zM188.5 322.4h1.3v1.3h-1.3zM195.4 321.9h1.3v1.3h-1.3zM187.9 319.2h1.3v1.3h-1.3zM187.9 319.0h1.3v1.3h-1.3zM192.3 319.3h1.3v1.3h-1.3zM188.8 318.5h1.3v1.3h-1.3zM191.9 322.1h1.3v1.3h-1.3zM196.5 319.2h1.3v1.3h-1.3zM192.6 320.6h1.3v1.3h-1.3zM194.5 316.7h1.3v1.3h-1.3zM187.0 318.5h1.3v1.3h-1.3zM189.7 322.1h1.3v1.3h-1.3zM192.7 317.3h1.3v1.3h-1.3zM194.8 320.8h1.3v1.3h-1.3zM187.1 320.1h1.3v1.3h-1.3zM191.5 322.3h1.3v1.3h-1.3zM196.5 318.6h1.3v1.3h-1.3zM193.7 316.7h1.3v1.3h-1.3zM188.2 317.1h1.3v1.3h-1.3zM194.9 319.1h1.3v1.3h-1.3zM193.3 317.1h1.3v1.3h-1.3zM195.5 321.3h1.3v1.3h-1.3zM194.1 318.2h1.3v1.3h-1.3zM196.7 320.5h1.3v1.3h-1.3zM195.0 319.9h1.3v1.3h-1.3zM189.8 322.6h1.3v1.3h-1.3zM189.1 325.6h1.3v1.3h-1.3zM193.8 329.3h1.3v1.3h-1.3zM196.5 330.1h1.3v1.3h-1.3zM194.9 324.2h1.3v1.3h-1.3zM191.0 328.5h1.3v1.3h-1.3zM190.2 325.7h1.3v1.3h-1.3zM195.5 328.6h1.3v1.3h-1.3zM188.0 329.1h1.3v1.3h-1.3zM195.2 325.5h1.3v1.3h-1.3zM196.6 326.8h1.3v1.3h-1.3zM192.0 331.3h1.3v1.3h-1.3zM195.3 325.3h1.3v1.3h-1.3zM191.4 330.0h1.3v1.3h-1.3zM190.4 324.9h1.3v1.3h-1.3zM195.7 327.9h1.3v1.3h-1.3zM187.5 328.7h1.3v1.3h-1.3zM193.3 326.9h1.3v1.3h-1.3zM190.5 331.2h1.3v1.3h-1.3zM194.3 329.6h1.3v1.3h-1.3zM196.0 325.2h1.3v1.3h-1.3zM192.7 324.5h1.3v1.3h-1.3zM194.5 328.8h1.3v1.3h-1.3zM195.1 337.6h1.3v1.3h-1.3zM189.6 333.9h1.3v1.3h-1.3zM195.3 338.4h1.3v1.3h-1.3zM188.4 338.0h1.3v1.3h-1.3zM189.9 333.1h1.3v1.3h-1.3zM188.7 335.0h1.3v1.3h-1.3zM187.8 334.6h1.3v1.3h-1.3zM190.7 339.7h1.3v1.3h-1.3zM188.8 339.3h1.3v1.3h-1.3zM194.5 334.7h1.3v1.3h-1.3zM196.2 336.5h1.3v1.3h-1.3zM190.4 348.0h1.3v1.3h-1.3zM189.2 341.7h1.3v1.3h-1.3zM195.1 342.0h1.3v1.3h-1.3zM190.8 347.1h1.3v1.3h-1.3zM188.1 343.7h1.3v1.3h-1.3zM194.9 347.3h1.3v1.3h-1.3zM193.1 351.8h1.3v1.3h-1.3zM188.9 351.4h1.3v1.3h-1.3zM190.4 354.8h1.3v1.3h-1.3zM207.1 275.3h1.3v1.3h-1.3zM204.9 274.0h1.3v1.3h-1.3zM200.6 278.7h1.3v1.3h-1.3zM198.7 278.6h1.3v1.3h-1.3zM203.6 276.0h1.3v1.3h-1.3zM206.7 279.9h1.3v1.3h-1.3zM205.7 276.2h1.3v1.3h-1.3zM203.1 282.2h1.3v1.3h-1.3zM203.3 287.4h1.3v1.3h-1.3zM200.6 283.3h1.3v1.3h-1.3zM204.5 284.2h1.3v1.3h-1.3zM206.7 281.8h1.3v1.3h-1.3zM207.9 283.4h1.3v1.3h-1.3zM198.6 287.0h1.3v1.3h-1.3zM208.5 286.6h1.3v1.3h-1.3zM204.2 296.0h1.3v1.3h-1.3zM201.4 292.9h1.3v1.3h-1.3zM206.8 293.3h1.3v1.3h-1.3zM205.1 291.5h1.3v1.3h-1.3zM207.2 296.2h1.3v1.3h-1.3zM206.4 290.1h1.3v1.3h-1.3zM203.8 293.3h1.3v1.3h-1.3zM207.1 295.2h1.3v1.3h-1.3zM205.5 296.2h1.3v1.3h-1.3zM203.0 295.1h1.3v1.3h-1.3zM201.5 292.5h1.3v1.3h-1.3zM201.6 294.6h1.3v1.3h-1.3zM204.0 297.0h1.3v1.3h-1.3zM205.5 297.0h1.3v1.3h-1.3zM208.7 291.3h1.3v1.3h-1.3zM206.2 291.8h1.3v1.3h-1.3zM198.7 295.0h1.3v1.3h-1.3zM205.6 292.2h1.3v1.3h-1.3zM208.4 295.0h1.3v1.3h-1.3zM206.4 291.3h1.3v1.3h-1.3zM203.0 295.3h1.3v1.3h-1.3zM198.7 296.0h1.3v1.3h-1.3zM201.3 290.1h1.3v1.3h-1.3zM207.8 299.7h1.3v1.3h-1.3zM204.5 303.3h1.3v1.3h-1.3zM202.4 303.3h1.3v1.3h-1.3zM200.7 299.0h1.3v1.3h-1.3zM202.2 303.8h1.3v1.3h-1.3zM206.6 300.4h1.3v1.3h-1.3zM203.8 299.4h1.3v1.3h-1.3zM206.6 300.6h1.3v1.3h-1.3zM206.3 300.2h1.3v1.3h-1.3zM200.7 301.3h1.3v1.3h-1.3zM200.8 298.8h1.3v1.3h-1.3zM199.4 299.4h1.3v1.3h-1.3zM200.2 300.2h1.3v1.3h-1.3zM199.6 299.0h1.3v1.3h-1.3zM203.3 305.3h1.3v1.3h-1.3zM203.8 300.3h1.3v1.3h-1.3zM207.4 300.1h1.3v1.3h-1.3zM201.1 305.2h1.3v1.3h-1.3zM206.0 299.1h1.3v1.3h-1.3zM201.7 300.0h1.3v1.3h-1.3zM203.4 299.9h1.3v1.3h-1.3zM205.2 302.3h1.3v1.3h-1.3zM203.3 303.9h1.3v1.3h-1.3zM200.8 302.2h1.3v1.3h-1.3zM202.2 305.1h1.3v1.3h-1.3zM199.2 300.1h1.3v1.3h-1.3zM202.9 299.6h1.3v1.3h-1.3zM202.6 303.5h1.3v1.3h-1.3zM208.2 300.2h1.3v1.3h-1.3zM203.7 305.4h1.3v1.3h-1.3zM208.7 303.0h1.3v1.3h-1.3zM201.7 301.5h1.3v1.3h-1.3zM205.3 298.7h1.3v1.3h-1.3zM200.1 304.5h1.3v1.3h-1.3zM204.7 300.4h1.3v1.3h-1.3zM204.2 303.7h1.3v1.3h-1.3zM199.9 299.5h1.3v1.3h-1.3zM204.4 305.0h1.3v1.3h-1.3zM200.8 299.8h1.3v1.3h-1.3zM201.2 305.4h1.3v1.3h-1.3zM198.9 305.2h1.3v1.3h-1.3zM198.6 300.7h1.3v1.3h-1.3zM208.4 313.4h1.3v1.3h-1.3zM205.2 310.8h1.3v1.3h-1.3zM200.9 311.9h1.3v1.3h-1.3zM204.3 308.4h1.3v1.3h-1.3zM201.0 308.8h1.3v1.3h-1.3zM203.8 312.0h1.3v1.3h-1.3zM206.1 311.6h1.3v1.3h-1.3zM205.4 312.9h1.3v1.3h-1.3zM203.3 312.0h1.3v1.3h-1.3zM206.5 308.8h1.3v1.3h-1.3zM208.3 308.6h1.3v1.3h-1.3zM208.4 313.6h1.3v1.3h-1.3zM206.0 309.7h1.3v1.3h-1.3zM206.3 308.0h1.3v1.3h-1.3zM200.6 309.0h1.3v1.3h-1.3zM199.8 310.0h1.3v1.3h-1.3zM204.4 309.7h1.3v1.3h-1.3zM202.9 308.4h1.3v1.3h-1.3zM198.6 312.0h1.3v1.3h-1.3zM207.1 311.7h1.3v1.3h-1.3zM205.7 314.1h1.3v1.3h-1.3zM206.3 309.3h1.3v1.3h-1.3zM207.5 311.4h1.3v1.3h-1.3zM201.2 307.6h1.3v1.3h-1.3zM200.2 312.1h1.3v1.3h-1.3zM200.8 309.0h1.3v1.3h-1.3zM208.6 307.2h1.3v1.3h-1.3zM208.1 314.1h1.3v1.3h-1.3zM201.9 310.9h1.3v1.3h-1.3zM202.7 310.6h1.3v1.3h-1.3zM199.0 307.7h1.3v1.3h-1.3zM199.3 311.6h1.3v1.3h-1.3zM201.1 312.8h1.3v1.3h-1.3zM201.9 310.6h1.3v1.3h-1.3zM208.0 311.1h1.3v1.3h-1.3zM200.0 320.6h1.3v1.3h-1.3zM205.8 317.3h1.3v1.3h-1.3zM206.7 316.3h1.3v1.3h-1.3zM200.4 320.7h1.3v1.3h-1.3zM206.6 317.3h1.3v1.3h-1.3zM205.3 319.7h1.3v1.3h-1.3zM200.4 319.8h1.3v1.3h-1.3zM205.0 317.4h1.3v1.3h-1.3zM202.8 319.5h1.3v1.3h-1.3zM198.7 320.9h1.3v1.3h-1.3zM201.4 320.3h1.3v1.3h-1.3zM204.8 322.1h1.3v1.3h-1.3zM201.6 320.4h1.3v1.3h-1.3zM200.0 317.3h1.3v1.3h-1.3zM206.6 317.9h1.3v1.3h-1.3zM205.9 316.0h1.3v1.3h-1.3zM199.3 316.0h1.3v1.3h-1.3zM203.2 317.1h1.3v1.3h-1.3zM203.6 319.4h1.3v1.3h-1.3zM205.8 319.5h1.3v1.3h-1.3zM199.5 316.1h1.3v1.3h-1.3zM203.4 317.5h1.3v1.3h-1.3zM200.7 317.9h1.3v1.3h-1.3zM205.8 321.2h1.3v1.3h-1.3zM204.8 316.4h1.3v1.3h-1.3zM205.0 317.6h1.3v1.3h-1.3zM208.6 322.2h1.3v1.3h-1.3zM203.2 320.1h1.3v1.3h-1.3zM199.1 321.1h1.3v1.3h-1.3zM202.9 316.2h1.3v1.3h-1.3zM199.4 322.6h1.3v1.3h-1.3zM201.4 321.2h1.3v1.3h-1.3zM199.5 316.1h1.3v1.3h-1.3zM203.9 321.7h1.3v1.3h-1.3zM200.2 321.2h1.3v1.3h-1.3zM201.9 316.5h1.3v1.3h-1.3zM208.5 316.5h1.3v1.3h-1.3zM203.3 322.5h1.3v1.3h-1.3zM206.0 325.1h1.3v1.3h-1.3zM201.9 326.0h1.3v1.3h-1.3zM203.3 331.3h1.3v1.3h-1.3zM207.3 326.5h1.3v1.3h-1.3zM206.1 326.6h1.3v1.3h-1.3zM201.1 326.8h1.3v1.3h-1.3zM202.0 326.9h1.3v1.3h-1.3zM200.7 330.7h1.3v1.3h-1.3zM202.3 330.2h1.3v1.3h-1.3zM206.5 330.5h1.3v1.3h-1.3zM201.9 326.0h1.3v1.3h-1.3zM200.7 324.7h1.3v1.3h-1.3zM206.1 325.6h1.3v1.3h-1.3zM203.8 327.7h1.3v1.3h-1.3zM207.5 329.0h1.3v1.3h-1.3zM198.7 328.4h1.3v1.3h-1.3zM205.8 327.3h1.3v1.3h-1.3zM208.7 327.3h1.3v1.3h-1.3zM205.8 330.9h1.3v1.3h-1.3zM200.3 328.1h1.3v1.3h-1.3zM208.0 334.2h1.3v1.3h-1.3zM203.7 336.1h1.3v1.3h-1.3zM206.2 334.4h1.3v1.3h-1.3zM203.0 333.3h1.3v1.3h-1.3zM206.7 337.6h1.3v1.3h-1.3zM201.9 338.2h1.3v1.3h-1.3zM204.8 343.4h1.3v1.3h-1.3zM200.6 341.8h1.3v1.3h-1.3zM201.7 344.9h1.3v1.3h-1.3zM200.4 354.0h1.3v1.3h-1.3zM206.0 356.6h1.3v1.3h-1.3zM216.2 252.2h1.3v1.3h-1.3zM219.9 251.3h1.3v1.3h-1.3zM210.3 265.8h1.3v1.3h-1.3zM215.8 271.1h1.3v1.3h-1.3zM219.7 276.1h1.3v1.3h-1.3zM216.3 280.0h1.3v1.3h-1.3zM210.6 273.8h1.3v1.3h-1.3zM217.4 277.5h1.3v1.3h-1.3zM220.4 278.1h1.3v1.3h-1.3zM219.6 277.0h1.3v1.3h-1.3zM213.3 284.2h1.3v1.3h-1.3zM213.4 287.0h1.3v1.3h-1.3zM219.5 285.7h1.3v1.3h-1.3zM211.1 283.5h1.3v1.3h-1.3zM212.3 286.2h1.3v1.3h-1.3zM218.5 287.0h1.3v1.3h-1.3zM211.6 286.4h1.3v1.3h-1.3zM212.7 287.4h1.3v1.3h-1.3zM213.6 288.2h1.3v1.3h-1.3zM211.5 287.4h1.3v1.3h-1.3zM215.6 287.7h1.3v1.3h-1.3zM217.1 286.9h1.3v1.3h-1.3zM215.8 284.4h1.3v1.3h-1.3zM218.0 285.7h1.3v1.3h-1.3zM213.3 281.7h1.3v1.3h-1.3zM213.8 285.9h1.3v1.3h-1.3zM212.2 285.2h1.3v1.3h-1.3zM218.8 294.9h1.3v1.3h-1.3zM219.7 297.2h1.3v1.3h-1.3zM217.5 290.0h1.3v1.3h-1.3zM214.5 297.0h1.3v1.3h-1.3zM216.0 290.1h1.3v1.3h-1.3zM219.4 294.3h1.3v1.3h-1.3zM210.2 291.5h1.3v1.3h-1.3zM212.8 296.4h1.3v1.3h-1.3zM213.4 297.0h1.3v1.3h-1.3zM220.3 290.8h1.3v1.3h-1.3zM212.9 291.1h1.3v1.3h-1.3zM220.4 294.5h1.3v1.3h-1.3zM211.7 295.3h1.3v1.3h-1.3zM213.8 296.5h1.3v1.3h-1.3zM211.5 291.2h1.3v1.3h-1.3zM216.2 295.8h1.3v1.3h-1.3zM215.3 294.2h1.3v1.3h-1.3zM214.3 294.0h1.3v1.3h-1.3zM210.7 293.1h1.3v1.3h-1.3zM217.9 291.8h1.3v1.3h-1.3zM212.6 290.7h1.3v1.3h-1.3zM214.1 292.4h1.3v1.3h-1.3zM212.4 294.9h1.3v1.3h-1.3zM214.8 293.7h1.3v1.3h-1.3zM216.3 291.3h1.3v1.3h-1.3zM210.9 292.4h1.3v1.3h-1.3zM216.8 293.1h1.3v1.3h-1.3zM215.4 296.8h1.3v1.3h-1.3zM211.7 292.2h1.3v1.3h-1.3zM219.5 295.1h1.3v1.3h-1.3zM211.8 290.3h1.3v1.3h-1.3zM218.9 294.7h1.3v1.3h-1.3zM216.6 290.4h1.3v1.3h-1.3zM213.5 290.8h1.3v1.3h-1.3zM217.5 293.7h1.3v1.3h-1.3zM217.0 293.2h1.3v1.3h-1.3zM211.0 296.6h1.3v1.3h-1.3zM212.4 292.9h1.3v1.3h-1.3zM213.5 291.9h1.3v1.3h-1.3zM212.4 292.9h1.3v1.3h-1.3zM214.5 291.1h1.3v1.3h-1.3zM215.7 297.2h1.3v1.3h-1.3zM211.1 293.7h1.3v1.3h-1.3zM212.1 294.9h1.3v1.3h-1.3zM218.5 293.4h1.3v1.3h-1.3zM215.1 290.9h1.3v1.3h-1.3zM210.5 295.2h1.3v1.3h-1.3zM211.2 292.3h1.3v1.3h-1.3zM216.1 295.3h1.3v1.3h-1.3zM217.3 292.7h1.3v1.3h-1.3zM212.9 297.1h1.3v1.3h-1.3zM219.0 294.6h1.3v1.3h-1.3zM219.1 303.7h1.3v1.3h-1.3zM214.0 303.4h1.3v1.3h-1.3zM218.2 304.8h1.3v1.3h-1.3zM215.9 300.0h1.3v1.3h-1.3zM215.1 301.0h1.3v1.3h-1.3zM215.4 302.8h1.3v1.3h-1.3zM212.9 302.2h1.3v1.3h-1.3zM214.4 303.4h1.3v1.3h-1.3zM215.6 300.6h1.3v1.3h-1.3zM217.4 304.2h1.3v1.3h-1.3zM212.6 305.3h1.3v1.3h-1.3zM214.0 300.7h1.3v1.3h-1.3zM217.4 304.5h1.3v1.3h-1.3zM217.7 300.1h1.3v1.3h-1.3zM213.8 300.8h1.3v1.3h-1.3zM217.9 303.9h1.3v1.3h-1.3zM212.5 304.2h1.3v1.3h-1.3zM217.1 303.2h1.3v1.3h-1.3zM212.9 299.0h1.3v1.3h-1.3zM210.4 305.5h1.3v1.3h-1.3zM212.4 301.0h1.3v1.3h-1.3zM218.3 303.9h1.3v1.3h-1.3zM213.9 300.5h1.3v1.3h-1.3zM219.1 301.7h1.3v1.3h-1.3zM213.3 305.6h1.3v1.3h-1.3zM218.9 301.0h1.3v1.3h-1.3zM219.3 301.6h1.3v1.3h-1.3zM218.1 301.3h1.3v1.3h-1.3zM219.4 301.7h1.3v1.3h-1.3zM216.2 300.4h1.3v1.3h-1.3zM214.1 301.3h1.3v1.3h-1.3zM213.9 304.1h1.3v1.3h-1.3zM217.1 303.1h1.3v1.3h-1.3zM210.3 303.4h1.3v1.3h-1.3zM213.1 300.0h1.3v1.3h-1.3zM219.5 300.2h1.3v1.3h-1.3zM216.0 300.9h1.3v1.3h-1.3zM213.4 303.2h1.3v1.3h-1.3zM215.4 299.4h1.3v1.3h-1.3zM213.3 301.6h1.3v1.3h-1.3zM212.6 304.8h1.3v1.3h-1.3zM216.2 301.3h1.3v1.3h-1.3zM218.3 304.4h1.3v1.3h-1.3zM210.6 301.3h1.3v1.3h-1.3zM215.8 301.4h1.3v1.3h-1.3zM211.2 300.4h1.3v1.3h-1.3zM214.6 305.7h1.3v1.3h-1.3zM214.9 308.6h1.3v1.3h-1.3zM211.0 307.7h1.3v1.3h-1.3zM214.6 310.8h1.3v1.3h-1.3zM211.8 310.8h1.3v1.3h-1.3zM213.9 313.3h1.3v1.3h-1.3zM219.2 309.7h1.3v1.3h-1.3zM216.4 311.2h1.3v1.3h-1.3zM210.9 314.0h1.3v1.3h-1.3zM211.3 311.8h1.3v1.3h-1.3zM213.8 310.0h1.3v1.3h-1.3zM216.9 311.9h1.3v1.3h-1.3zM214.8 313.1h1.3v1.3h-1.3zM217.7 307.3h1.3v1.3h-1.3zM215.2 310.5h1.3v1.3h-1.3zM212.8 311.8h1.3v1.3h-1.3zM216.4 308.3h1.3v1.3h-1.3zM213.3 311.1h1.3v1.3h-1.3zM215.1 311.6h1.3v1.3h-1.3zM213.3 312.0h1.3v1.3h-1.3zM215.9 312.5h1.3v1.3h-1.3zM216.8 307.9h1.3v1.3h-1.3zM211.9 313.1h1.3v1.3h-1.3zM210.2 313.5h1.3v1.3h-1.3zM213.6 307.3h1.3v1.3h-1.3zM210.8 307.6h1.3v1.3h-1.3zM211.3 308.2h1.3v1.3h-1.3zM218.5 312.4h1.3v1.3h-1.3zM211.0 313.8h1.3v1.3h-1.3zM216.4 321.9h1.3v1.3h-1.3zM212.6 320.7h1.3v1.3h-1.3zM219.2 318.2h1.3v1.3h-1.3zM214.3 319.4h1.3v1.3h-1.3zM213.7 321.5h1.3v1.3h-1.3zM214.0 319.8h1.3v1.3h-1.3zM216.3 320.2h1.3v1.3h-1.3zM212.0 316.4h1.3v1.3h-1.3zM215.4 316.7h1.3v1.3h-1.3zM219.1 318.4h1.3v1.3h-1.3zM212.0 319.8h1.3v1.3h-1.3zM215.3 321.7h1.3v1.3h-1.3zM219.7 317.1h1.3v1.3h-1.3zM212.3 321.3h1.3v1.3h-1.3zM210.6 326.0h1.3v1.3h-1.3zM211.2 325.8h1.3v1.3h-1.3zM218.7 327.6h1.3v1.3h-1.3zM219.2 331.2h1.3v1.3h-1.3zM210.3 327.4h1.3v1.3h-1.3zM216.3 326.6h1.3v1.3h-1.3zM211.3 329.4h1.3v1.3h-1.3zM215.3 327.2h1.3v1.3h-1.3zM213.0 333.5h1.3v1.3h-1.3zM215.9 335.7h1.3v1.3h-1.3zM216.1 337.8h1.3v1.3h-1.3zM211.4 344.7h1.3v1.3h-1.3zM211.6 342.8h1.3v1.3h-1.3zM230.7 256.6h1.3v1.3h-1.3zM226.5 261.0h1.3v1.3h-1.3zM228.5 269.4h1.3v1.3h-1.3zM227.7 268.1h1.3v1.3h-1.3zM223.9 266.9h1.3v1.3h-1.3zM224.4 264.6h1.3v1.3h-1.3zM223.0 270.6h1.3v1.3h-1.3zM227.5 270.3h1.3v1.3h-1.3zM223.5 271.4h1.3v1.3h-1.3zM222.5 267.7h1.3v1.3h-1.3zM227.8 274.7h1.3v1.3h-1.3zM232.1 274.4h1.3v1.3h-1.3zM221.9 273.6h1.3v1.3h-1.3zM224.5 277.4h1.3v1.3h-1.3zM230.1 277.3h1.3v1.3h-1.3zM230.3 279.4h1.3v1.3h-1.3zM227.7 275.7h1.3v1.3h-1.3zM229.7 277.4h1.3v1.3h-1.3zM229.1 279.8h1.3v1.3h-1.3zM225.1 279.3h1.3v1.3h-1.3zM230.1 274.7h1.3v1.3h-1.3zM225.3 278.8h1.3v1.3h-1.3zM222.4 275.3h1.3v1.3h-1.3zM230.2 274.6h1.3v1.3h-1.3zM230.8 278.9h1.3v1.3h-1.3zM230.4 280.1h1.3v1.3h-1.3zM230.4 279.6h1.3v1.3h-1.3zM227.6 274.9h1.3v1.3h-1.3zM231.0 283.2h1.3v1.3h-1.3zM229.7 283.7h1.3v1.3h-1.3zM224.7 287.1h1.3v1.3h-1.3zM230.2 282.6h1.3v1.3h-1.3zM225.4 287.9h1.3v1.3h-1.3zM222.5 286.9h1.3v1.3h-1.3zM228.7 282.1h1.3v1.3h-1.3zM228.6 287.8h1.3v1.3h-1.3zM226.4 281.7h1.3v1.3h-1.3zM229.9 285.3h1.3v1.3h-1.3zM223.1 284.3h1.3v1.3h-1.3zM224.7 286.8h1.3v1.3h-1.3zM228.4 285.0h1.3v1.3h-1.3zM231.3 288.3h1.3v1.3h-1.3zM227.6 287.7h1.3v1.3h-1.3zM224.4 282.2h1.3v1.3h-1.3zM229.7 282.6h1.3v1.3h-1.3zM232.0 285.0h1.3v1.3h-1.3zM230.5 287.9h1.3v1.3h-1.3zM231.3 286.3h1.3v1.3h-1.3zM227.1 283.6h1.3v1.3h-1.3zM223.2 288.1h1.3v1.3h-1.3zM225.6 287.5h1.3v1.3h-1.3zM229.6 284.9h1.3v1.3h-1.3zM222.7 288.6h1.3v1.3h-1.3zM225.6 284.5h1.3v1.3h-1.3zM231.0 288.3h1.3v1.3h-1.3zM225.5 282.3h1.3v1.3h-1.3zM227.1 285.7h1.3v1.3h-1.3zM231.9 284.5h1.3v1.3h-1.3zM227.9 285.4h1.3v1.3h-1.3zM224.3 283.8h1.3v1.3h-1.3zM226.4 288.6h1.3v1.3h-1.3zM223.9 281.9h1.3v1.3h-1.3zM224.2 287.1h1.3v1.3h-1.3zM227.3 285.3h1.3v1.3h-1.3zM224.9 282.0h1.3v1.3h-1.3zM228.5 283.1h1.3v1.3h-1.3zM226.8 290.3h1.3v1.3h-1.3zM228.2 292.0h1.3v1.3h-1.3zM224.2 291.4h1.3v1.3h-1.3zM230.2 293.3h1.3v1.3h-1.3zM225.4 295.9h1.3v1.3h-1.3zM228.5 292.9h1.3v1.3h-1.3zM223.7 297.1h1.3v1.3h-1.3zM227.3 294.6h1.3v1.3h-1.3zM229.9 295.2h1.3v1.3h-1.3zM224.2 295.1h1.3v1.3h-1.3zM225.7 297.2h1.3v1.3h-1.3zM230.9 290.2h1.3v1.3h-1.3zM225.8 295.6h1.3v1.3h-1.3zM223.9 295.7h1.3v1.3h-1.3zM229.6 293.6h1.3v1.3h-1.3zM229.8 291.6h1.3v1.3h-1.3zM221.8 291.9h1.3v1.3h-1.3zM229.7 294.6h1.3v1.3h-1.3zM229.4 294.9h1.3v1.3h-1.3zM227.3 294.3h1.3v1.3h-1.3zM223.8 292.3h1.3v1.3h-1.3zM222.7 292.5h1.3v1.3h-1.3zM227.7 291.3h1.3v1.3h-1.3zM223.0 295.5h1.3v1.3h-1.3zM222.7 291.8h1.3v1.3h-1.3zM224.7 295.4h1.3v1.3h-1.3zM231.7 290.1h1.3v1.3h-1.3zM225.1 291.5h1.3v1.3h-1.3zM224.6 291.6h1.3v1.3h-1.3zM225.6 290.9h1.3v1.3h-1.3zM224.3 294.2h1.3v1.3h-1.3zM224.9 293.8h1.3v1.3h-1.3zM230.0 294.1h1.3v1.3h-1.3zM231.0 290.3h1.3v1.3h-1.3zM225.4 293.6h1.3v1.3h-1.3zM223.7 294.6h1.3v1.3h-1.3zM231.9 291.4h1.3v1.3h-1.3zM222.2 292.0h1.3v1.3h-1.3zM223.3 293.8h1.3v1.3h-1.3zM230.0 290.7h1.3v1.3h-1.3zM230.7 299.5h1.3v1.3h-1.3zM229.5 302.9h1.3v1.3h-1.3zM226.0 304.0h1.3v1.3h-1.3zM226.6 304.4h1.3v1.3h-1.3zM227.4 298.7h1.3v1.3h-1.3zM229.3 302.9h1.3v1.3h-1.3zM230.2 300.5h1.3v1.3h-1.3zM231.3 300.5h1.3v1.3h-1.3zM228.6 302.8h1.3v1.3h-1.3zM226.0 305.4h1.3v1.3h-1.3zM226.9 302.1h1.3v1.3h-1.3zM227.1 304.4h1.3v1.3h-1.3zM230.8 301.6h1.3v1.3h-1.3zM224.2 301.9h1.3v1.3h-1.3zM227.7 305.0h1.3v1.3h-1.3zM227.1 305.7h1.3v1.3h-1.3zM221.9 300.9h1.3v1.3h-1.3zM223.0 301.6h1.3v1.3h-1.3zM224.9 303.8h1.3v1.3h-1.3zM230.1 305.6h1.3v1.3h-1.3zM223.9 299.3h1.3v1.3h-1.3zM226.9 304.0h1.3v1.3h-1.3zM223.1 301.6h1.3v1.3h-1.3zM226.2 302.6h1.3v1.3h-1.3zM225.8 301.6h1.3v1.3h-1.3zM231.8 299.2h1.3v1.3h-1.3zM229.2 301.4h1.3v1.3h-1.3zM227.9 301.2h1.3v1.3h-1.3zM224.7 301.9h1.3v1.3h-1.3zM224.2 300.4h1.3v1.3h-1.3zM230.0 302.0h1.3v1.3h-1.3zM230.7 299.4h1.3v1.3h-1.3zM232.0 303.7h1.3v1.3h-1.3zM223.3 299.0h1.3v1.3h-1.3zM229.3 308.0h1.3v1.3h-1.3zM226.3 313.0h1.3v1.3h-1.3zM228.4 309.6h1.3v1.3h-1.3zM223.0 311.1h1.3v1.3h-1.3zM224.6 312.7h1.3v1.3h-1.3zM223.5 308.5h1.3v1.3h-1.3zM225.7 309.1h1.3v1.3h-1.3zM226.5 310.9h1.3v1.3h-1.3zM226.2 307.6h1.3v1.3h-1.3zM225.1 308.9h1.3v1.3h-1.3zM228.5 316.4h1.3v1.3h-1.3zM224.4 321.8h1.3v1.3h-1.3zM224.8 316.4h1.3v1.3h-1.3zM228.8 317.7h1.3v1.3h-1.3zM222.6 322.7h1.3v1.3h-1.3zM228.1 318.2h1.3v1.3h-1.3zM226.3 322.4h1.3v1.3h-1.3zM222.9 316.9h1.3v1.3h-1.3zM222.2 321.6h1.3v1.3h-1.3zM229.9 325.1h1.3v1.3h-1.3zM230.6 329.1h1.3v1.3h-1.3zM223.4 328.9h1.3v1.3h-1.3zM223.1 325.4h1.3v1.3h-1.3zM223.0 326.0h1.3v1.3h-1.3zM230.8 326.5h1.3v1.3h-1.3zM228.9 326.8h1.3v1.3h-1.3zM230.1 334.9h1.3v1.3h-1.3zM223.8 339.7h1.3v1.3h-1.3zM241.8 234.1h1.3v1.3h-1.3zM234.4 254.0h1.3v1.3h-1.3zM241.6 252.3h1.3v1.3h-1.3zM238.9 262.8h1.3v1.3h-1.3zM243.8 260.6h1.3v1.3h-1.3zM242.1 262.8h1.3v1.3h-1.3zM241.1 263.0h1.3v1.3h-1.3zM233.5 267.0h1.3v1.3h-1.3zM236.9 271.0h1.3v1.3h-1.3zM239.6 270.4h1.3v1.3h-1.3zM243.2 265.2h1.3v1.3h-1.3zM236.2 268.5h1.3v1.3h-1.3zM234.4 271.1h1.3v1.3h-1.3zM240.7 266.9h1.3v1.3h-1.3zM243.0 268.3h1.3v1.3h-1.3zM240.4 270.5h1.3v1.3h-1.3zM239.2 270.6h1.3v1.3h-1.3zM238.0 265.8h1.3v1.3h-1.3zM239.6 267.5h1.3v1.3h-1.3zM234.4 269.6h1.3v1.3h-1.3zM242.6 265.7h1.3v1.3h-1.3zM241.3 268.7h1.3v1.3h-1.3zM233.6 267.5h1.3v1.3h-1.3zM239.5 271.5h1.3v1.3h-1.3zM234.2 269.4h1.3v1.3h-1.3zM236.8 270.2h1.3v1.3h-1.3zM234.5 269.0h1.3v1.3h-1.3zM240.4 267.1h1.3v1.3h-1.3zM239.8 269.9h1.3v1.3h-1.3zM239.2 266.8h1.3v1.3h-1.3zM240.0 269.8h1.3v1.3h-1.3zM240.6 280.2h1.3v1.3h-1.3zM243.2 276.1h1.3v1.3h-1.3zM242.4 274.4h1.3v1.3h-1.3zM243.6 273.4h1.3v1.3h-1.3zM238.4 278.3h1.3v1.3h-1.3zM243.1 277.8h1.3v1.3h-1.3zM234.2 273.2h1.3v1.3h-1.3zM235.5 279.1h1.3v1.3h-1.3zM243.4 275.5h1.3v1.3h-1.3zM233.5 274.8h1.3v1.3h-1.3zM242.6 276.6h1.3v1.3h-1.3zM234.6 278.6h1.3v1.3h-1.3zM238.9 276.0h1.3v1.3h-1.3zM241.1 278.0h1.3v1.3h-1.3zM233.8 279.0h1.3v1.3h-1.3zM240.0 275.2h1.3v1.3h-1.3zM243.0 276.8h1.3v1.3h-1.3zM237.0 275.5h1.3v1.3h-1.3zM233.5 276.0h1.3v1.3h-1.3zM241.0 278.8h1.3v1.3h-1.3zM241.7 273.8h1.3v1.3h-1.3zM234.7 275.3h1.3v1.3h-1.3zM243.6 276.0h1.3v1.3h-1.3zM234.3 278.4h1.3v1.3h-1.3zM234.1 276.1h1.3v1.3h-1.3zM243.8 276.5h1.3v1.3h-1.3zM238.8 278.5h1.3v1.3h-1.3zM237.7 278.3h1.3v1.3h-1.3zM241.1 277.1h1.3v1.3h-1.3zM239.3 273.5h1.3v1.3h-1.3zM236.7 273.8h1.3v1.3h-1.3zM240.9 278.2h1.3v1.3h-1.3zM239.9 274.6h1.3v1.3h-1.3zM237.5 274.9h1.3v1.3h-1.3zM235.2 274.9h1.3v1.3h-1.3zM234.0 275.1h1.3v1.3h-1.3zM238.4 279.5h1.3v1.3h-1.3zM241.7 273.9h1.3v1.3h-1.3zM235.7 286.2h1.3v1.3h-1.3zM233.6 285.1h1.3v1.3h-1.3zM236.1 284.3h1.3v1.3h-1.3zM233.5 283.4h1.3v1.3h-1.3zM236.8 284.5h1.3v1.3h-1.3zM236.8 281.6h1.3v1.3h-1.3zM241.1 285.1h1.3v1.3h-1.3zM235.9 288.0h1.3v1.3h-1.3zM235.6 287.4h1.3v1.3h-1.3zM234.7 285.1h1.3v1.3h-1.3zM234.6 283.8h1.3v1.3h-1.3zM240.4 286.0h1.3v1.3h-1.3zM237.4 282.0h1.3v1.3h-1.3zM234.2 287.1h1.3v1.3h-1.3zM237.0 282.9h1.3v1.3h-1.3zM241.9 287.5h1.3v1.3h-1.3zM243.1 283.4h1.3v1.3h-1.3zM240.4 283.2h1.3v1.3h-1.3zM234.5 287.2h1.3v1.3h-1.3zM234.8 283.5h1.3v1.3h-1.3zM240.0 285.3h1.3v1.3h-1.3zM241.2 283.0h1.3v1.3h-1.3zM235.2 283.2h1.3v1.3h-1.3zM234.2 284.0h1.3v1.3h-1.3zM240.2 282.1h1.3v1.3h-1.3zM239.6 285.3h1.3v1.3h-1.3zM234.4 285.6h1.3v1.3h-1.3zM234.3 287.1h1.3v1.3h-1.3zM239.5 285.3h1.3v1.3h-1.3zM243.3 284.3h1.3v1.3h-1.3zM241.4 285.4h1.3v1.3h-1.3zM241.3 283.1h1.3v1.3h-1.3zM238.0 283.2h1.3v1.3h-1.3zM235.7 286.6h1.3v1.3h-1.3zM237.9 286.6h1.3v1.3h-1.3zM236.2 286.3h1.3v1.3h-1.3zM243.2 284.7h1.3v1.3h-1.3zM233.7 284.9h1.3v1.3h-1.3zM236.6 282.2h1.3v1.3h-1.3zM234.2 282.7h1.3v1.3h-1.3zM237.0 285.1h1.3v1.3h-1.3zM237.5 282.5h1.3v1.3h-1.3zM239.2 288.5h1.3v1.3h-1.3zM237.1 283.8h1.3v1.3h-1.3zM238.6 287.2h1.3v1.3h-1.3zM234.8 283.0h1.3v1.3h-1.3zM238.0 285.6h1.3v1.3h-1.3zM240.1 285.8h1.3v1.3h-1.3zM239.0 285.7h1.3v1.3h-1.3zM241.2 284.2h1.3v1.3h-1.3zM236.4 296.7h1.3v1.3h-1.3zM236.3 296.5h1.3v1.3h-1.3zM240.8 295.8h1.3v1.3h-1.3zM238.3 296.5h1.3v1.3h-1.3zM236.1 291.1h1.3v1.3h-1.3zM239.4 296.3h1.3v1.3h-1.3zM238.4 293.4h1.3v1.3h-1.3zM243.3 294.3h1.3v1.3h-1.3zM242.5 291.2h1.3v1.3h-1.3zM234.9 293.7h1.3v1.3h-1.3zM238.2 293.4h1.3v1.3h-1.3zM240.9 293.9h1.3v1.3h-1.3zM243.7 290.5h1.3v1.3h-1.3zM242.8 291.0h1.3v1.3h-1.3zM234.5 293.3h1.3v1.3h-1.3zM241.6 291.4h1.3v1.3h-1.3zM243.7 290.1h1.3v1.3h-1.3zM234.4 295.5h1.3v1.3h-1.3zM235.8 290.4h1.3v1.3h-1.3zM237.1 295.2h1.3v1.3h-1.3zM238.8 293.9h1.3v1.3h-1.3zM239.5 293.2h1.3v1.3h-1.3zM242.1 295.0h1.3v1.3h-1.3zM234.5 290.4h1.3v1.3h-1.3zM239.6 290.9h1.3v1.3h-1.3zM234.8 294.4h1.3v1.3h-1.3zM242.3 290.1h1.3v1.3h-1.3zM243.5 291.9h1.3v1.3h-1.3zM233.5 294.4h1.3v1.3h-1.3zM241.4 293.8h1.3v1.3h-1.3zM235.7 294.7h1.3v1.3h-1.3zM239.5 291.7h1.3v1.3h-1.3zM235.3 302.8h1.3v1.3h-1.3zM238.3 303.7h1.3v1.3h-1.3zM236.4 300.4h1.3v1.3h-1.3zM238.6 301.1h1.3v1.3h-1.3zM236.0 299.1h1.3v1.3h-1.3zM240.5 302.8h1.3v1.3h-1.3zM235.7 300.4h1.3v1.3h-1.3zM238.8 300.6h1.3v1.3h-1.3zM243.2 302.1h1.3v1.3h-1.3zM241.3 299.2h1.3v1.3h-1.3zM238.6 298.8h1.3v1.3h-1.3zM242.1 302.9h1.3v1.3h-1.3zM240.7 298.6h1.3v1.3h-1.3zM235.3 301.0h1.3v1.3h-1.3zM243.2 302.1h1.3v1.3h-1.3zM238.2 300.5h1.3v1.3h-1.3zM240.9 300.2h1.3v1.3h-1.3zM238.5 303.3h1.3v1.3h-1.3zM236.2 305.6h1.3v1.3h-1.3zM241.4 300.8h1.3v1.3h-1.3zM235.3 312.1h1.3v1.3h-1.3zM237.4 311.1h1.3v1.3h-1.3zM242.9 311.8h1.3v1.3h-1.3zM237.7 309.7h1.3v1.3h-1.3zM239.1 313.5h1.3v1.3h-1.3zM238.6 309.0h1.3v1.3h-1.3zM242.7 309.5h1.3v1.3h-1.3zM235.5 311.7h1.3v1.3h-1.3zM239.3 321.0h1.3v1.3h-1.3zM240.0 320.5h1.3v1.3h-1.3zM234.0 316.1h1.3v1.3h-1.3zM238.4 325.2h1.3v1.3h-1.3zM234.0 330.9h1.3v1.3h-1.3zM255.0 248.7h1.3v1.3h-1.3zM249.0 252.0h1.3v1.3h-1.3zM249.6 250.4h1.3v1.3h-1.3zM250.8 249.3h1.3v1.3h-1.3zM250.9 249.7h1.3v1.3h-1.3zM249.5 251.0h1.3v1.3h-1.3zM250.8 248.8h1.3v1.3h-1.3zM245.3 256.0h1.3v1.3h-1.3zM252.0 259.7h1.3v1.3h-1.3zM247.4 258.8h1.3v1.3h-1.3zM252.5 262.8h1.3v1.3h-1.3zM246.1 262.0h1.3v1.3h-1.3zM254.3 257.5h1.3v1.3h-1.3zM252.9 260.8h1.3v1.3h-1.3zM249.4 260.9h1.3v1.3h-1.3zM250.8 258.4h1.3v1.3h-1.3zM252.7 259.1h1.3v1.3h-1.3zM254.1 267.3h1.3v1.3h-1.3zM247.4 267.9h1.3v1.3h-1.3zM248.9 269.2h1.3v1.3h-1.3zM245.2 271.4h1.3v1.3h-1.3zM250.8 271.4h1.3v1.3h-1.3zM245.8 265.9h1.3v1.3h-1.3zM254.0 268.2h1.3v1.3h-1.3zM247.9 268.1h1.3v1.3h-1.3zM248.3 271.0h1.3v1.3h-1.3zM247.5 268.7h1.3v1.3h-1.3zM250.5 269.1h1.3v1.3h-1.3zM250.8 266.7h1.3v1.3h-1.3zM251.5 271.0h1.3v1.3h-1.3zM253.5 264.9h1.3v1.3h-1.3zM250.9 269.8h1.3v1.3h-1.3zM248.0 268.9h1.3v1.3h-1.3zM250.0 268.3h1.3v1.3h-1.3zM246.9 270.5h1.3v1.3h-1.3zM248.9 271.3h1.3v1.3h-1.3zM255.0 265.9h1.3v1.3h-1.3zM253.0 265.6h1.3v1.3h-1.3zM245.2 265.3h1.3v1.3h-1.3zM246.0 267.8h1.3v1.3h-1.3zM254.4 268.5h1.3v1.3h-1.3zM246.9 266.7h1.3v1.3h-1.3zM247.1 268.9h1.3v1.3h-1.3zM253.1 268.6h1.3v1.3h-1.3zM246.0 270.5h1.3v1.3h-1.3zM251.7 266.1h1.3v1.3h-1.3zM249.3 269.6h1.3v1.3h-1.3zM245.3 269.0h1.3v1.3h-1.3zM252.5 266.8h1.3v1.3h-1.3zM250.1 269.8h1.3v1.3h-1.3zM250.4 266.3h1.3v1.3h-1.3zM247.8 265.9h1.3v1.3h-1.3zM252.7 266.4h1.3v1.3h-1.3zM245.2 271.2h1.3v1.3h-1.3zM246.3 268.2h1.3v1.3h-1.3zM254.3 266.6h1.3v1.3h-1.3zM254.0 270.8h1.3v1.3h-1.3zM251.1 278.3h1.3v1.3h-1.3zM249.3 276.6h1.3v1.3h-1.3zM253.9 278.0h1.3v1.3h-1.3zM250.4 277.1h1.3v1.3h-1.3zM247.2 276.3h1.3v1.3h-1.3zM247.8 278.9h1.3v1.3h-1.3zM247.8 279.7h1.3v1.3h-1.3zM249.8 279.8h1.3v1.3h-1.3zM252.2 273.7h1.3v1.3h-1.3zM247.9 273.7h1.3v1.3h-1.3zM247.7 279.9h1.3v1.3h-1.3zM247.1 278.1h1.3v1.3h-1.3zM250.6 273.5h1.3v1.3h-1.3zM253.3 277.2h1.3v1.3h-1.3zM248.6 273.9h1.3v1.3h-1.3zM252.8 277.0h1.3v1.3h-1.3zM247.6 276.4h1.3v1.3h-1.3zM245.6 276.2h1.3v1.3h-1.3zM254.3 273.9h1.3v1.3h-1.3zM253.4 275.2h1.3v1.3h-1.3zM255.4 277.4h1.3v1.3h-1.3zM248.3 276.0h1.3v1.3h-1.3zM251.9 279.3h1.3v1.3h-1.3zM247.0 280.1h1.3v1.3h-1.3zM250.4 279.1h1.3v1.3h-1.3zM251.3 278.6h1.3v1.3h-1.3zM252.1 273.4h1.3v1.3h-1.3zM247.9 277.3h1.3v1.3h-1.3zM249.8 276.8h1.3v1.3h-1.3zM254.4 275.0h1.3v1.3h-1.3zM254.7 273.9h1.3v1.3h-1.3zM255.4 275.1h1.3v1.3h-1.3zM247.7 276.6h1.3v1.3h-1.3zM247.7 276.4h1.3v1.3h-1.3zM246.7 273.8h1.3v1.3h-1.3zM246.1 273.8h1.3v1.3h-1.3zM253.4 279.3h1.3v1.3h-1.3zM253.5 279.1h1.3v1.3h-1.3zM248.2 278.9h1.3v1.3h-1.3zM245.6 279.9h1.3v1.3h-1.3zM254.6 278.4h1.3v1.3h-1.3zM246.1 277.6h1.3v1.3h-1.3zM252.0 277.8h1.3v1.3h-1.3zM251.7 277.9h1.3v1.3h-1.3zM250.5 285.8h1.3v1.3h-1.3zM253.0 285.3h1.3v1.3h-1.3zM250.5 283.0h1.3v1.3h-1.3zM247.3 285.2h1.3v1.3h-1.3zM251.1 284.8h1.3v1.3h-1.3zM253.3 286.4h1.3v1.3h-1.3zM247.8 283.8h1.3v1.3h-1.3zM253.5 283.8h1.3v1.3h-1.3zM253.5 284.5h1.3v1.3h-1.3zM254.6 287.0h1.3v1.3h-1.3zM248.9 281.5h1.3v1.3h-1.3zM248.6 282.8h1.3v1.3h-1.3zM246.5 286.2h1.3v1.3h-1.3zM247.7 286.4h1.3v1.3h-1.3zM254.2 283.6h1.3v1.3h-1.3zM251.9 285.5h1.3v1.3h-1.3zM246.6 285.8h1.3v1.3h-1.3zM252.9 282.8h1.3v1.3h-1.3zM245.5 285.5h1.3v1.3h-1.3zM246.8 282.5h1.3v1.3h-1.3zM250.8 287.3h1.3v1.3h-1.3zM245.6 282.2h1.3v1.3h-1.3zM250.4 287.0h1.3v1.3h-1.3zM245.5 284.9h1.3v1.3h-1.3zM247.2 281.8h1.3v1.3h-1.3zM254.4 284.1h1.3v1.3h-1.3zM250.5 287.0h1.3v1.3h-1.3zM245.5 285.4h1.3v1.3h-1.3zM248.6 284.3h1.3v1.3h-1.3zM249.9 287.6h1.3v1.3h-1.3zM251.0 295.5h1.3v1.3h-1.3zM254.9 292.5h1.3v1.3h-1.3zM245.1 293.0h1.3v1.3h-1.3zM246.5 295.9h1.3v1.3h-1.3zM249.0 297.3h1.3v1.3h-1.3zM255.1 295.6h1.3v1.3h-1.3zM249.1 295.2h1.3v1.3h-1.3zM251.5 290.1h1.3v1.3h-1.3zM245.3 296.4h1.3v1.3h-1.3zM251.8 295.6h1.3v1.3h-1.3zM249.5 293.4h1.3v1.3h-1.3zM245.9 292.0h1.3v1.3h-1.3zM246.3 300.2h1.3v1.3h-1.3zM246.9 304.9h1.3v1.3h-1.3zM248.6 313.8h1.3v1.3h-1.3zM255.2 312.9h1.3v1.3h-1.3zM250.1 308.7h1.3v1.3h-1.3zM246.5 309.2h1.3v1.3h-1.3zM253.5 309.5h1.3v1.3h-1.3zM263.1 218.6h1.3v1.3h-1.3zM261.5 214.1h1.3v1.3h-1.3zM259.9 235.4h1.3v1.3h-1.3zM262.3 232.4h1.3v1.3h-1.3zM260.9 245.0h1.3v1.3h-1.3zM262.2 244.5h1.3v1.3h-1.3zM260.9 243.5h1.3v1.3h-1.3zM262.9 242.1h1.3v1.3h-1.3zM264.6 243.3h1.3v1.3h-1.3zM259.2 243.5h1.3v1.3h-1.3zM264.0 243.3h1.3v1.3h-1.3zM259.6 254.1h1.3v1.3h-1.3zM259.8 251.5h1.3v1.3h-1.3zM266.6 254.5h1.3v1.3h-1.3zM257.5 247.5h1.3v1.3h-1.3zM266.0 248.4h1.3v1.3h-1.3zM257.5 251.8h1.3v1.3h-1.3zM264.4 253.1h1.3v1.3h-1.3zM263.2 250.0h1.3v1.3h-1.3zM265.2 254.4h1.3v1.3h-1.3zM259.1 254.6h1.3v1.3h-1.3zM262.3 250.2h1.3v1.3h-1.3zM262.3 249.9h1.3v1.3h-1.3zM264.4 252.7h1.3v1.3h-1.3zM264.9 250.1h1.3v1.3h-1.3zM261.3 251.7h1.3v1.3h-1.3zM262.5 262.6h1.3v1.3h-1.3zM264.3 261.1h1.3v1.3h-1.3zM265.9 261.1h1.3v1.3h-1.3zM262.0 259.6h1.3v1.3h-1.3zM263.3 262.9h1.3v1.3h-1.3zM258.6 261.5h1.3v1.3h-1.3zM263.0 260.0h1.3v1.3h-1.3zM259.9 260.8h1.3v1.3h-1.3zM264.9 259.5h1.3v1.3h-1.3zM267.1 257.9h1.3v1.3h-1.3zM266.1 259.7h1.3v1.3h-1.3zM265.4 262.3h1.3v1.3h-1.3zM267.0 258.7h1.3v1.3h-1.3zM265.4 258.5h1.3v1.3h-1.3zM260.6 258.4h1.3v1.3h-1.3zM265.0 259.9h1.3v1.3h-1.3zM259.9 261.4h1.3v1.3h-1.3zM260.8 259.5h1.3v1.3h-1.3zM259.4 262.0h1.3v1.3h-1.3zM261.4 260.5h1.3v1.3h-1.3zM256.8 258.5h1.3v1.3h-1.3zM258.7 259.8h1.3v1.3h-1.3zM259.5 261.2h1.3v1.3h-1.3zM264.5 261.3h1.3v1.3h-1.3zM257.1 262.0h1.3v1.3h-1.3zM262.8 260.8h1.3v1.3h-1.3zM266.1 260.2h1.3v1.3h-1.3zM263.3 258.9h1.3v1.3h-1.3zM260.0 257.7h1.3v1.3h-1.3zM257.9 257.8h1.3v1.3h-1.3zM266.6 257.1h1.3v1.3h-1.3zM260.7 260.5h1.3v1.3h-1.3zM263.8 257.0h1.3v1.3h-1.3zM262.8 261.1h1.3v1.3h-1.3zM257.3 260.7h1.3v1.3h-1.3zM266.4 260.9h1.3v1.3h-1.3zM261.0 256.3h1.3v1.3h-1.3zM260.4 262.2h1.3v1.3h-1.3zM264.6 260.5h1.3v1.3h-1.3zM262.1 260.6h1.3v1.3h-1.3zM260.9 270.5h1.3v1.3h-1.3zM260.4 267.5h1.3v1.3h-1.3zM259.0 267.0h1.3v1.3h-1.3zM258.7 267.9h1.3v1.3h-1.3zM262.8 270.0h1.3v1.3h-1.3zM261.8 265.8h1.3v1.3h-1.3zM263.8 266.0h1.3v1.3h-1.3zM259.9 266.8h1.3v1.3h-1.3zM265.9 270.1h1.3v1.3h-1.3zM261.5 265.9h1.3v1.3h-1.3zM266.7 265.1h1.3v1.3h-1.3zM258.8 270.5h1.3v1.3h-1.3zM261.9 264.8h1.3v1.3h-1.3zM262.1 270.2h1.3v1.3h-1.3zM264.5 266.3h1.3v1.3h-1.3zM264.3 268.0h1.3v1.3h-1.3zM257.6 268.4h1.3v1.3h-1.3zM258.0 265.1h1.3v1.3h-1.3zM261.7 270.1h1.3v1.3h-1.3zM267.0 270.7h1.3v1.3h-1.3zM262.4 268.7h1.3v1.3h-1.3zM259.4 268.1h1.3v1.3h-1.3zM262.9 264.5h1.3v1.3h-1.3zM261.4 265.6h1.3v1.3h-1.3zM262.6 269.8h1.3v1.3h-1.3zM263.3 271.0h1.3v1.3h-1.3zM260.3 265.6h1.3v1.3h-1.3zM259.1 264.6h1.3v1.3h-1.3zM258.6 268.3h1.3v1.3h-1.3zM261.6 264.5h1.3v1.3h-1.3zM259.4 265.1h1.3v1.3h-1.3zM258.4 267.3h1.3v1.3h-1.3zM261.6 265.6h1.3v1.3h-1.3zM265.9 266.8h1.3v1.3h-1.3zM266.8 265.0h1.3v1.3h-1.3zM258.3 269.6h1.3v1.3h-1.3zM266.1 270.6h1.3v1.3h-1.3zM262.1 270.6h1.3v1.3h-1.3zM259.4 264.6h1.3v1.3h-1.3zM258.3 271.1h1.3v1.3h-1.3zM260.5 271.5h1.3v1.3h-1.3zM261.3 265.2h1.3v1.3h-1.3zM259.8 279.8h1.3v1.3h-1.3zM266.9 274.9h1.3v1.3h-1.3zM266.6 279.7h1.3v1.3h-1.3zM258.8 273.6h1.3v1.3h-1.3zM261.2 274.3h1.3v1.3h-1.3zM260.2 273.1h1.3v1.3h-1.3zM257.8 274.2h1.3v1.3h-1.3zM260.0 279.7h1.3v1.3h-1.3zM264.6 276.9h1.3v1.3h-1.3zM259.1 277.7h1.3v1.3h-1.3zM263.5 275.5h1.3v1.3h-1.3zM266.4 277.3h1.3v1.3h-1.3zM266.2 273.3h1.3v1.3h-1.3zM266.5 278.0h1.3v1.3h-1.3zM260.7 278.0h1.3v1.3h-1.3zM258.5 276.3h1.3v1.3h-1.3zM259.0 279.7h1.3v1.3h-1.3zM263.4 277.6h1.3v1.3h-1.3zM263.2 274.7h1.3v1.3h-1.3zM265.9 273.3h1.3v1.3h-1.3zM262.1 276.1h1.3v1.3h-1.3zM257.9 279.0h1.3v1.3h-1.3zM259.8 276.2h1.3v1.3h-1.3zM258.8 275.2h1.3v1.3h-1.3zM262.7 273.3h1.3v1.3h-1.3zM258.0 283.9h1.3v1.3h-1.3zM257.8 285.8h1.3v1.3h-1.3zM261.1 288.0h1.3v1.3h-1.3zM262.2 282.5h1.3v1.3h-1.3zM262.5 286.4h1.3v1.3h-1.3zM260.2 281.6h1.3v1.3h-1.3zM259.1 281.6h1.3v1.3h-1.3zM263.0 281.9h1.3v1.3h-1.3zM264.6 285.1h1.3v1.3h-1.3zM260.4 285.6h1.3v1.3h-1.3zM258.7 287.8h1.3v1.3h-1.3zM266.0 283.8h1.3v1.3h-1.3zM257.9 286.1h1.3v1.3h-1.3zM264.0 292.2h1.3v1.3h-1.3zM266.3 293.0h1.3v1.3h-1.3zM261.9 293.2h1.3v1.3h-1.3zM257.6 297.1h1.3v1.3h-1.3zM261.9 296.6h1.3v1.3h-1.3zM264.9 302.0h1.3v1.3h-1.3zM260.9 303.2h1.3v1.3h-1.3zM275.2 218.2h1.3v1.3h-1.3zM273.0 233.9h1.3v1.3h-1.3zM273.3 236.1h1.3v1.3h-1.3zM272.7 239.6h1.3v1.3h-1.3zM268.8 239.6h1.3v1.3h-1.3zM277.8 239.2h1.3v1.3h-1.3zM273.4 243.0h1.3v1.3h-1.3zM269.5 241.0h1.3v1.3h-1.3zM271.5 240.4h1.3v1.3h-1.3zM276.9 244.6h1.3v1.3h-1.3zM277.1 243.5h1.3v1.3h-1.3zM272.7 244.4h1.3v1.3h-1.3zM273.7 252.3h1.3v1.3h-1.3zM270.2 251.7h1.3v1.3h-1.3zM276.2 253.7h1.3v1.3h-1.3zM276.0 250.1h1.3v1.3h-1.3zM273.0 250.7h1.3v1.3h-1.3zM270.1 253.8h1.3v1.3h-1.3zM277.7 248.4h1.3v1.3h-1.3zM274.6 249.1h1.3v1.3h-1.3zM275.6 248.3h1.3v1.3h-1.3zM275.3 253.3h1.3v1.3h-1.3zM275.4 251.9h1.3v1.3h-1.3zM273.2 254.0h1.3v1.3h-1.3zM277.8 254.5h1.3v1.3h-1.3zM270.1 250.9h1.3v1.3h-1.3zM272.5 253.0h1.3v1.3h-1.3zM278.6 248.9h1.3v1.3h-1.3zM271.3 250.3h1.3v1.3h-1.3zM278.1 248.5h1.3v1.3h-1.3zM273.0 252.7h1.3v1.3h-1.3zM271.2 250.3h1.3v1.3h-1.3zM272.6 252.8h1.3v1.3h-1.3zM275.2 248.1h1.3v1.3h-1.3zM270.9 253.2h1.3v1.3h-1.3zM273.1 253.7h1.3v1.3h-1.3zM273.1 254.4h1.3v1.3h-1.3zM274.1 252.0h1.3v1.3h-1.3zM274.3 252.6h1.3v1.3h-1.3zM275.7 250.2h1.3v1.3h-1.3zM272.3 249.7h1.3v1.3h-1.3zM276.5 251.1h1.3v1.3h-1.3zM275.8 247.8h1.3v1.3h-1.3zM272.7 249.8h1.3v1.3h-1.3zM278.8 261.3h1.3v1.3h-1.3zM276.2 259.5h1.3v1.3h-1.3zM274.4 259.9h1.3v1.3h-1.3zM274.4 262.6h1.3v1.3h-1.3zM268.8 262.0h1.3v1.3h-1.3zM271.0 258.1h1.3v1.3h-1.3zM276.2 257.2h1.3v1.3h-1.3zM270.9 260.5h1.3v1.3h-1.3zM276.4 261.1h1.3v1.3h-1.3zM274.6 256.9h1.3v1.3h-1.3zM269.9 262.9h1.3v1.3h-1.3zM278.1 260.7h1.3v1.3h-1.3zM276.1 260.3h1.3v1.3h-1.3zM272.1 257.3h1.3v1.3h-1.3zM273.6 256.9h1.3v1.3h-1.3zM276.1 256.0h1.3v1.3h-1.3zM272.7 261.0h1.3v1.3h-1.3zM273.4 257.4h1.3v1.3h-1.3zM277.5 258.5h1.3v1.3h-1.3zM278.2 258.6h1.3v1.3h-1.3zM270.9 256.3h1.3v1.3h-1.3zM275.2 259.8h1.3v1.3h-1.3zM275.9 257.5h1.3v1.3h-1.3zM273.0 259.2h1.3v1.3h-1.3zM269.9 260.9h1.3v1.3h-1.3zM274.3 258.5h1.3v1.3h-1.3zM270.2 261.4h1.3v1.3h-1.3zM270.1 262.2h1.3v1.3h-1.3zM270.9 265.6h1.3v1.3h-1.3zM273.0 265.1h1.3v1.3h-1.3zM277.1 271.1h1.3v1.3h-1.3zM272.9 270.4h1.3v1.3h-1.3zM271.0 264.6h1.3v1.3h-1.3zM274.2 265.9h1.3v1.3h-1.3zM277.5 267.5h1.3v1.3h-1.3zM274.4 266.6h1.3v1.3h-1.3zM275.8 268.5h1.3v1.3h-1.3zM272.1 268.7h1.3v1.3h-1.3zM273.3 268.6h1.3v1.3h-1.3zM274.8 268.3h1.3v1.3h-1.3zM269.7 267.4h1.3v1.3h-1.3zM273.0 265.6h1.3v1.3h-1.3zM273.9 271.3h1.3v1.3h-1.3zM268.7 267.5h1.3v1.3h-1.3zM276.5 266.1h1.3v1.3h-1.3zM274.4 265.4h1.3v1.3h-1.3zM269.1 265.5h1.3v1.3h-1.3zM270.6 264.7h1.3v1.3h-1.3zM272.1 267.3h1.3v1.3h-1.3zM271.1 275.1h1.3v1.3h-1.3zM274.2 277.7h1.3v1.3h-1.3zM269.4 279.5h1.3v1.3h-1.3zM271.6 273.0h1.3v1.3h-1.3zM275.5 275.0h1.3v1.3h-1.3zM270.4 283.4h1.3v1.3h-1.3zM274.4 283.8h1.3v1.3h-1.3zM277.6 284.2h1.3v1.3h-1.3zM268.6 285.5h1.3v1.3h-1.3zM274.9 285.4h1.3v1.3h-1.3zM275.9 284.0h1.3v1.3h-1.3zM269.5 285.5h1.3v1.3h-1.3zM272.1 282.8h1.3v1.3h-1.3zM269.4 292.1h1.3v1.3h-1.3zM272.8 294.2h1.3v1.3h-1.3zM268.8 297.2h1.3v1.3h-1.3zM282.8 219.9h1.3v1.3h-1.3zM288.3 228.8h1.3v1.3h-1.3zM281.0 223.3h1.3v1.3h-1.3zM286.3 233.2h1.3v1.3h-1.3zM284.6 233.4h1.3v1.3h-1.3zM285.2 234.4h1.3v1.3h-1.3zM287.0 235.4h1.3v1.3h-1.3zM286.4 230.6h1.3v1.3h-1.3zM284.8 232.2h1.3v1.3h-1.3zM286.9 235.8h1.3v1.3h-1.3zM284.2 230.4h1.3v1.3h-1.3zM289.4 235.4h1.3v1.3h-1.3zM283.1 241.7h1.3v1.3h-1.3zM280.4 245.5h1.3v1.3h-1.3zM282.9 239.0h1.3v1.3h-1.3zM289.2 243.6h1.3v1.3h-1.3zM283.4 243.0h1.3v1.3h-1.3zM287.1 241.0h1.3v1.3h-1.3zM289.2 239.9h1.3v1.3h-1.3zM290.0 241.6h1.3v1.3h-1.3zM283.1 241.4h1.3v1.3h-1.3zM281.9 240.7h1.3v1.3h-1.3zM288.7 242.5h1.3v1.3h-1.3zM287.3 242.0h1.3v1.3h-1.3zM281.5 240.6h1.3v1.3h-1.3zM283.9 243.6h1.3v1.3h-1.3zM289.8 244.4h1.3v1.3h-1.3zM282.5 242.3h1.3v1.3h-1.3zM287.1 242.0h1.3v1.3h-1.3zM285.6 241.3h1.3v1.3h-1.3zM287.9 244.4h1.3v1.3h-1.3zM288.2 244.8h1.3v1.3h-1.3zM288.6 245.8h1.3v1.3h-1.3zM289.9 242.1h1.3v1.3h-1.3zM287.8 239.5h1.3v1.3h-1.3zM281.1 244.1h1.3v1.3h-1.3zM286.8 241.0h1.3v1.3h-1.3zM282.1 244.6h1.3v1.3h-1.3zM287.4 242.2h1.3v1.3h-1.3zM286.0 249.4h1.3v1.3h-1.3zM287.3 251.0h1.3v1.3h-1.3zM287.9 250.1h1.3v1.3h-1.3zM280.6 253.0h1.3v1.3h-1.3zM284.3 247.7h1.3v1.3h-1.3zM282.8 252.2h1.3v1.3h-1.3zM290.2 251.1h1.3v1.3h-1.3zM289.6 251.9h1.3v1.3h-1.3zM286.9 248.4h1.3v1.3h-1.3zM282.4 250.8h1.3v1.3h-1.3zM288.5 251.7h1.3v1.3h-1.3zM284.2 248.9h1.3v1.3h-1.3zM287.3 249.6h1.3v1.3h-1.3zM287.6 250.7h1.3v1.3h-1.3zM282.5 248.4h1.3v1.3h-1.3zM286.8 248.1h1.3v1.3h-1.3zM282.0 260.2h1.3v1.3h-1.3zM287.1 261.5h1.3v1.3h-1.3zM284.1 256.5h1.3v1.3h-1.3zM286.6 261.7h1.3v1.3h-1.3zM290.3 262.5h1.3v1.3h-1.3zM285.8 260.7h1.3v1.3h-1.3zM284.0 261.1h1.3v1.3h-1.3zM284.7 260.0h1.3v1.3h-1.3zM285.0 258.0h1.3v1.3h-1.3zM285.3 260.7h1.3v1.3h-1.3zM290.4 257.4h1.3v1.3h-1.3zM286.1 260.9h1.3v1.3h-1.3zM284.3 258.4h1.3v1.3h-1.3zM288.4 262.1h1.3v1.3h-1.3zM286.0 259.2h1.3v1.3h-1.3zM289.6 262.4h1.3v1.3h-1.3zM281.3 261.7h1.3v1.3h-1.3zM284.2 259.2h1.3v1.3h-1.3zM282.5 266.6h1.3v1.3h-1.3zM283.7 271.0h1.3v1.3h-1.3zM288.3 266.0h1.3v1.3h-1.3zM288.2 268.2h1.3v1.3h-1.3zM280.4 264.9h1.3v1.3h-1.3zM286.7 265.4h1.3v1.3h-1.3zM289.0 265.8h1.3v1.3h-1.3zM281.3 277.5h1.3v1.3h-1.3zM284.8 273.0h1.3v1.3h-1.3zM286.2 277.3h1.3v1.3h-1.3zM299.5 218.1h1.3v1.3h-1.3zM296.1 225.4h1.3v1.3h-1.3zM297.7 228.1h1.3v1.3h-1.3zM295.9 228.4h1.3v1.3h-1.3zM293.4 227.0h1.3v1.3h-1.3zM300.8 221.9h1.3v1.3h-1.3zM301.3 227.7h1.3v1.3h-1.3zM300.2 225.9h1.3v1.3h-1.3zM299.0 224.7h1.3v1.3h-1.3zM300.7 226.9h1.3v1.3h-1.3zM296.3 235.2h1.3v1.3h-1.3zM292.8 232.1h1.3v1.3h-1.3zM302.1 237.5h1.3v1.3h-1.3zM298.5 231.3h1.3v1.3h-1.3zM294.7 237.4h1.3v1.3h-1.3zM301.2 234.0h1.3v1.3h-1.3zM297.6 237.4h1.3v1.3h-1.3zM298.1 236.7h1.3v1.3h-1.3zM296.7 236.2h1.3v1.3h-1.3zM295.7 236.4h1.3v1.3h-1.3zM296.2 232.0h1.3v1.3h-1.3zM301.9 235.2h1.3v1.3h-1.3zM296.2 237.5h1.3v1.3h-1.3zM295.4 231.4h1.3v1.3h-1.3zM294.7 234.8h1.3v1.3h-1.3zM300.8 233.4h1.3v1.3h-1.3zM292.9 234.1h1.3v1.3h-1.3zM297.0 239.6h1.3v1.3h-1.3zM297.1 239.4h1.3v1.3h-1.3zM300.6 243.1h1.3v1.3h-1.3zM298.4 239.4h1.3v1.3h-1.3zM291.9 242.6h1.3v1.3h-1.3zM293.4 243.7h1.3v1.3h-1.3zM296.5 243.0h1.3v1.3h-1.3zM300.3 243.8h1.3v1.3h-1.3zM299.2 239.8h1.3v1.3h-1.3zM293.7 242.3h1.3v1.3h-1.3zM299.5 241.2h1.3v1.3h-1.3zM296.5 245.4h1.3v1.3h-1.3zM298.3 244.3h1.3v1.3h-1.3zM300.2 239.8h1.3v1.3h-1.3zM299.9 241.2h1.3v1.3h-1.3zM298.7 239.6h1.3v1.3h-1.3zM294.7 241.7h1.3v1.3h-1.3zM298.4 243.3h1.3v1.3h-1.3zM299.6 243.4h1.3v1.3h-1.3zM292.1 244.0h1.3v1.3h-1.3zM295.9 240.3h1.3v1.3h-1.3zM300.6 244.3h1.3v1.3h-1.3zM293.9 240.3h1.3v1.3h-1.3zM294.4 245.2h1.3v1.3h-1.3zM293.8 241.8h1.3v1.3h-1.3zM301.0 239.0h1.3v1.3h-1.3zM295.8 247.6h1.3v1.3h-1.3zM296.4 253.5h1.3v1.3h-1.3zM301.7 247.6h1.3v1.3h-1.3zM294.3 253.4h1.3v1.3h-1.3zM299.8 248.8h1.3v1.3h-1.3zM294.7 252.8h1.3v1.3h-1.3zM295.3 252.2h1.3v1.3h-1.3zM298.7 249.9h1.3v1.3h-1.3zM298.6 247.8h1.3v1.3h-1.3zM294.6 254.5h1.3v1.3h-1.3zM301.4 251.2h1.3v1.3h-1.3zM295.1 249.4h1.3v1.3h-1.3zM300.3 252.9h1.3v1.3h-1.3zM301.8 260.5h1.3v1.3h-1.3zM302.0 260.9h1.3v1.3h-1.3zM292.0 257.3h1.3v1.3h-1.3zM295.3 260.4h1.3v1.3h-1.3zM299.4 261.9h1.3v1.3h-1.3zM294.3 259.5h1.3v1.3h-1.3zM295.5 260.2h1.3v1.3h-1.3zM296.0 264.8h1.3v1.3h-1.3zM293.5 266.1h1.3v1.3h-1.3zM298.0 265.8h1.3v1.3h-1.3zM294.1 265.9h1.3v1.3h-1.3zM312.5 205.2h1.3v1.3h-1.3zM308.7 206.6h1.3v1.3h-1.3zM307.9 210.5h1.3v1.3h-1.3zM309.1 219.1h1.3v1.3h-1.3zM313.9 215.4h1.3v1.3h-1.3zM308.2 219.3h1.3v1.3h-1.3zM307.2 214.2h1.3v1.3h-1.3zM309.3 219.0h1.3v1.3h-1.3zM312.5 220.4h1.3v1.3h-1.3zM307.9 219.2h1.3v1.3h-1.3zM305.6 225.2h1.3v1.3h-1.3zM306.2 227.3h1.3v1.3h-1.3zM310.0 223.9h1.3v1.3h-1.3zM310.1 223.0h1.3v1.3h-1.3zM312.3 221.9h1.3v1.3h-1.3zM312.5 228.5h1.3v1.3h-1.3zM306.1 222.6h1.3v1.3h-1.3zM304.6 228.7h1.3v1.3h-1.3zM306.1 235.8h1.3v1.3h-1.3zM307.7 233.5h1.3v1.3h-1.3zM309.1 233.6h1.3v1.3h-1.3zM307.4 237.4h1.3v1.3h-1.3zM306.4 232.0h1.3v1.3h-1.3zM307.6 234.9h1.3v1.3h-1.3zM308.1 236.0h1.3v1.3h-1.3zM307.8 237.1h1.3v1.3h-1.3zM305.3 231.5h1.3v1.3h-1.3zM308.7 230.4h1.3v1.3h-1.3zM309.5 236.4h1.3v1.3h-1.3zM304.3 236.3h1.3v1.3h-1.3zM305.1 238.9h1.3v1.3h-1.3zM307.5 242.1h1.3v1.3h-1.3zM310.7 241.6h1.3v1.3h-1.3zM309.1 240.3h1.3v1.3h-1.3zM310.9 245.5h1.3v1.3h-1.3zM306.0 239.8h1.3v1.3h-1.3zM305.9 241.8h1.3v1.3h-1.3zM307.9 248.6h1.3v1.3h-1.3zM308.0 249.7h1.3v1.3h-1.3zM305.2 248.4h1.3v1.3h-1.3zM308.2 248.9h1.3v1.3h-1.3zM305.9 256.2h1.3v1.3h-1.3zM306.4 257.2h1.3v1.3h-1.3zM303.6 256.7h1.3v1.3h-1.3zM322.6 208.6h1.3v1.3h-1.3zM316.7 207.4h1.3v1.3h-1.3zM318.1 217.4h1.3v1.3h-1.3zM321.8 217.6h1.3v1.3h-1.3zM318.3 218.7h1.3v1.3h-1.3zM322.0 220.1h1.3v1.3h-1.3zM317.1 216.3h1.3v1.3h-1.3zM322.2 215.3h1.3v1.3h-1.3zM324.7 216.6h1.3v1.3h-1.3zM322.3 219.5h1.3v1.3h-1.3zM317.8 218.1h1.3v1.3h-1.3zM325.4 218.7h1.3v1.3h-1.3zM323.8 213.7h1.3v1.3h-1.3zM315.9 224.2h1.3v1.3h-1.3zM320.3 224.4h1.3v1.3h-1.3zM325.3 228.5h1.3v1.3h-1.3zM319.8 227.8h1.3v1.3h-1.3zM315.9 223.2h1.3v1.3h-1.3zM323.4 222.2h1.3v1.3h-1.3zM322.0 223.0h1.3v1.3h-1.3zM316.8 222.4h1.3v1.3h-1.3zM320.8 227.9h1.3v1.3h-1.3zM316.1 236.3h1.3v1.3h-1.3zM315.5 233.4h1.3v1.3h-1.3zM316.4 231.2h1.3v1.3h-1.3zM319.5 241.6h1.3v1.3h-1.3zM319.5 240.2h1.3v1.3h-1.3zM317.5 245.7h1.3v1.3h-1.3zM320.0 256.0h1.3v1.3h-1.3zM332.1 199.6h1.3v1.3h-1.3zM328.0 200.5h1.3v1.3h-1.3zM332.4 209.8h1.3v1.3h-1.3zM331.9 211.4h1.3v1.3h-1.3zM329.2 207.8h1.3v1.3h-1.3zM329.7 208.0h1.3v1.3h-1.3zM337.0 210.8h1.3v1.3h-1.3zM330.2 209.6h1.3v1.3h-1.3zM327.1 216.5h1.3v1.3h-1.3zM332.9 217.7h1.3v1.3h-1.3zM328.5 215.6h1.3v1.3h-1.3zM329.0 216.8h1.3v1.3h-1.3zM334.8 222.8h1.3v1.3h-1.3zM329.0 222.6h1.3v1.3h-1.3zM330.8 227.5h1.3v1.3h-1.3zM330.4 235.7h1.3v1.3h-1.3zM331.1 235.6h1.3v1.3h-1.3zM327.6 234.0h1.3v1.3h-1.3zM332.2 236.8h1.3v1.3h-1.3zM348.2 192.2h1.3v1.3h-1.3zM344.4 201.7h1.3v1.3h-1.3zM345.3 200.5h1.3v1.3h-1.3zM346.6 201.0h1.3v1.3h-1.3zM347.8 200.5h1.3v1.3h-1.3zM341.8 196.9h1.3v1.3h-1.3zM340.9 203.2h1.3v1.3h-1.3zM347.9 207.1h1.3v1.3h-1.3zM345.0 205.4h1.3v1.3h-1.3zM339.7 208.2h1.3v1.3h-1.3zM341.9 209.5h1.3v1.3h-1.3zM347.1 209.6h1.3v1.3h-1.3zM347.2 213.4h1.3v1.3h-1.3zM347.3 220.4h1.3v1.3h-1.3zM340.1 234.1h1.3v1.3h-1.3zM359.8 186.0h1.3v1.3h-1.3zM357.4 187.9h1.3v1.3h-1.3zM350.4 191.5h1.3v1.3h-1.3zM356.1 192.2h1.3v1.3h-1.3zM354.0 196.2h1.3v1.3h-1.3zM352.2 196.8h1.3v1.3h-1.3zM354.2 202.3h1.3v1.3h-1.3zM353.4 199.9h1.3v1.3h-1.3zM352.9 201.4h1.3v1.3h-1.3zM360.5 200.9h1.3v1.3h-1.3zM355.2 216.4h1.3v1.3h-1.3zM365.3 174.0h1.3v1.3h-1.3zM366.5 179.9h1.3v1.3h-1.3zM371.1 185.7h1.3v1.3h-1.3zM368.0 182.6h1.3v1.3h-1.3zM372.3 188.5h1.3v1.3h-1.3zM368.1 189.2h1.3v1.3h-1.3zM372.3 200.0h1.3v1.3h-1.3zM365.7 197.8h1.3v1.3h-1.3zM371.1 206.9h1.3v1.3h-1.3zM375.2 172.0h1.3v1.3h-1.3zM376.9 177.6h1.3v1.3h-1.3zM377.7 176.0h1.3v1.3h-1.3zM374.5 185.4h1.3v1.3h-1.3zM378.4 180.5h1.3v1.3h-1.3zM374.0 186.0h1.3v1.3h-1.3zM380.4 180.5h1.3v1.3h-1.3zM382.4 194.7h1.3v1.3h-1.3zM382.1 189.0h1.3v1.3h-1.3zM379.8 188.3h1.3v1.3h-1.3zM382.4 189.7h1.3v1.3h-1.3zM379.0 193.0h1.3v1.3h-1.3zM380.9 197.0h1.3v1.3h-1.3zM376.8 196.7h1.3v1.3h-1.3zM394.8 159.1h1.3v1.3h-1.3zM385.9 156.9h1.3v1.3h-1.3zM394.3 168.5h1.3v1.3h-1.3zM393.3 167.3h1.3v1.3h-1.3zM391.2 177.7h1.3v1.3h-1.3zM393.3 174.5h1.3v1.3h-1.3zM388.8 179.9h1.3v1.3h-1.3zM390.5 182.7h1.3v1.3h-1.3zM397.7 158.2h1.3v1.3h-1.3zM403.6 154.9h1.3v1.3h-1.3zM401.4 163.3h1.3v1.3h-1.3zM402.6 164.9h1.3v1.3h-1.3zM398.5 167.3h1.3v1.3h-1.3zM398.1 173.3h1.3v1.3h-1.3zM404.3 170.6h1.3v1.3h-1.3zM397.7 176.6h1.3v1.3h-1.3zM401.5 180.3h1.3v1.3h-1.3zM402.6 185.4h1.3v1.3h-1.3zM411.3 142.5h1.3v1.3h-1.3zM415.8 155.6h1.3v1.3h-1.3zM410.4 168.1h1.3v1.3h-1.3zM409.2 166.8h1.3v1.3h-1.3zM426.6 151.6h1.3v1.3h-1.3zM430.7 149.0h1.3v1.3h-1.3zM425.3 155.0h1.3v1.3h-1.3zM428.1 158.7h1.3v1.3h-1.3zM440.7 133.0h1.3v1.3h-1.3zM432.8 128.6h1.3v1.3h-1.3zM440.0 133.4h1.3v1.3h-1.3zM435.9 134.6h1.3v1.3h-1.3zM434.4 139.6h1.3v1.3h-1.3zM435.4 140.6h1.3v1.3h-1.3zM437.7 148.8h1.3v1.3h-1.3zM433.0 146.6h1.3v1.3h-1.3zM445.8 133.3h1.3v1.3h-1.3zM450.6 132.6h1.3v1.3h-1.3zM461.8 113.2h1.3v1.3h-1.3zM462.1 123.9h1.3v1.3h-1.3zM462.8 119.9h1.3v1.3h-1.3zM460.9 131.7h1.3v1.3h-1.3zM465.4 131.0h1.3v1.3h-1.3zM476.7 115.3h1.3v1.3h-1.3zM496.0 94.6h1.3v1.3h-1.3zM499.0 107.1h1.3v1.3h-1.3zM518.9 68.5h1.3v1.3h-1.3zM529.7 71.0h1.3v1.3h-1.3zM554.3 54.2h1.3v1.3h-1.3z"/><rect x="70.0" y="9.6" width="514.6" height="416.79999999999995" fill="none" stroke="#1c1c1c" stroke-width="1.8"/><path d="M80.35 426.4v-6 M80.35 9.6v5 M93.92 426.4v-6 M93.92 9.6v5 M105.89 426.4v-6 M105.89 9.6v5 M116.60 426.4v-12 M116.60 9.6v11 M187.04 426.4v-6 M187.04 9.6v5 M228.25 426.4v-6 M228.25 9.6v5 M257.48 426.4v-6 M257.48 9.6v5 M280.16 426.4v-6 M280.16 9.6v5 M298.69 426.4v-6 M298.69 9.6v5 M314.35 426.4v-6 M314.35 9.6v5 M327.92 426.4v-6 M327.92 9.6v5 M339.89 426.4v-6 M339.89 9.6v5 M350.60 426.4v-12 M350.60 9.6v11 M421.04 426.4v-6 M421.04 9.6v5 M462.25 426.4v-6 M462.25 9.6v5 M491.48 426.4v-6 M491.48 9.6v5 M514.16 426.4v-6 M514.16 9.6v5 M532.69 426.4v-6 M532.69 9.6v5 M548.35 426.4v-6 M548.35 9.6v5 M561.92 426.4v-6 M561.92 9.6v5 M573.89 426.4v-6 M573.89 9.6v5 M70.0 419.28h8 M584.6 419.28h-8 M70.0 402.79h8 M584.6 402.79h-8 M70.0 389.31h8 M584.6 389.31h-8 M70.0 377.91h8 M584.6 377.91h-8 M70.0 368.04h8 M584.6 368.04h-8 M70.0 359.34h8 M584.6 359.34h-8 M70.0 351.55h16 M584.6 351.55h-16 M70.0 300.31h8 M584.6 300.31h-8 M70.0 270.34h8 M584.6 270.34h-8 M70.0 249.08h8 M584.6 249.08h-8 M70.0 232.59h8 M584.6 232.59h-8 M70.0 219.11h8 M584.6 219.11h-8 M70.0 207.71h8 M584.6 207.71h-8 M70.0 197.84h8 M584.6 197.84h-8 M70.0 189.14h8 M584.6 189.14h-8 M70.0 181.35h16 M584.6 181.35h-16 M70.0 130.11h8 M584.6 130.11h-8 M70.0 100.14h8 M584.6 100.14h-8 M70.0 78.88h8 M584.6 78.88h-8 M70.0 62.39h8 M584.6 62.39h-8 M70.0 48.91h8 M584.6 48.91h-8 M70.0 37.51h8 M584.6 37.51h-8 M70.0 27.64h8 M584.6 27.64h-8 M70.0 18.94h8 M584.6 18.94h-8 M70.0 11.15h16 M584.6 11.15h-16" stroke="#222" stroke-width="1.5" fill="none"/><line x1="72.6" y1="404.8" x2="581.6" y2="34.9" stroke="#ff0000" stroke-width="2.6"/><defs><linearGradient id="cb" x1="0" y1="1" x2="0" y2="0"><stop offset="0.0000" stop-color="#f9fb0e"/><stop offset="0.1250" stop-color="#fec832"/><stop offset="0.2500" stop-color="#d1bb59"/><stop offset="0.3750" stop-color="#87bf77"/><stop offset="0.5000" stop-color="#2eb7a4"/><stop offset="0.6250" stop-color="#06a4ca"/><stop offset="0.7500" stop-color="#1481d6"/><stop offset="0.8750" stop-color="#0f5cdd"/><stop offset="1.0000" stop-color="#352a87"/></linearGradient></defs><rect x="587.8" y="8.9" width="31.5" height="417.40000000000003" fill="url(#cb)"/><path d="M619.3 426.20h-16.5 M619.3 346.03h-16.5 M619.3 265.76h-16.5 M619.3 185.49h-16.5 M619.3 105.22h-16.5 M619.3 24.95h-16.5" stroke="#222" stroke-width="1.5" fill="none"/><path d="M619.3 8.9V426.90000000000003" stroke="#1c1c1c" stroke-width="1.6" fill="none"/><g font-family="Liberation Serif" fill="#000" opacity="0.999"><text transform="translate(41.49,359.22) scale(0.9522,1)" font-size="22.81">10</text><text transform="translate(33.67,191.02) scale(0.9379,1)" font-size="23.41">10</text><text transform="translate(55.98,181.25) scale(1.0206,1)" font-size="14.70">2</text><text transform="translate(34.25,20.52) scale(0.9851,1)" font-size="22.52">10</text><text transform="translate(56.90,10.41) scale(0.8929,1)" font-size="14.48">3</text><text transform="translate(97.94,456.32) scale(0.9902,1)" font-size="22.52">10</text><text transform="translate(121.12,446.75) scale(0.8932,1)" font-size="15.27">17</text><text transform="translate(331.09,456.32) scale(1.0091,1)" font-size="22.67">10</text><text transform="translate(354.18,446.11) scale(0.9941,1)" font-size="14.22">18</text><text transform="translate(565.72,456.33) scale(1.0206,1)" font-size="22.07">10</text><text transform="translate(588.76,446.31) scale(1.0028,1)" font-size="14.33">19</text><text transform="translate(622.74,434.17) scale(1.0150,1)" font-size="22.52">0</text><text transform="translate(621.56,354.06) scale(1.0612,1)" font-size="22.96">10</text><text transform="translate(622.71,273.80) scale(1.0090,1)" font-size="22.96">20</text><text transform="translate(622.59,193.54) scale(1.0145,1)" font-size="22.96">30</text><text transform="translate(623.30,113.28) scale(0.9822,1)" font-size="22.96">40</text><text transform="translate(622.34,33.02) scale(1.0258,1)" font-size="22.96">50</text><text transform="translate(274.07,484.95) scale(1.0342,1)" font-size="30.69" font-style="italic">E</text><text transform="translate(294.16,493.85) scale(0.9981,1)" font-size="19.54">FD</text><text transform="translate(327.85,485.03) scale(0.8588,1)" font-size="32.18">/</text><text transform="translate(343.73,484.88) scale(0.9674,1)" font-size="31.43">eV</text><text transform="translate(21.44,281.39) rotate(-90) scale(1.1054,1)" font-size="31.04" font-style="italic">S</text><text transform="translate(30.16,265.33) rotate(-90) scale(1.0377,1)" font-size="18.96">35</text><text transform="translate(20.94,237.45) rotate(-90) scale(1.0095,1)" font-size="30.98">/</text><text transform="translate(21.00,221.05) rotate(-90) scale(1.0103,1)" font-size="30.15">VEM</text><text transform="translate(683.25,258.04) rotate(-90) scale(0.9793,1)" font-size="30.45">Counts</text></g>
</svg></body></html>
